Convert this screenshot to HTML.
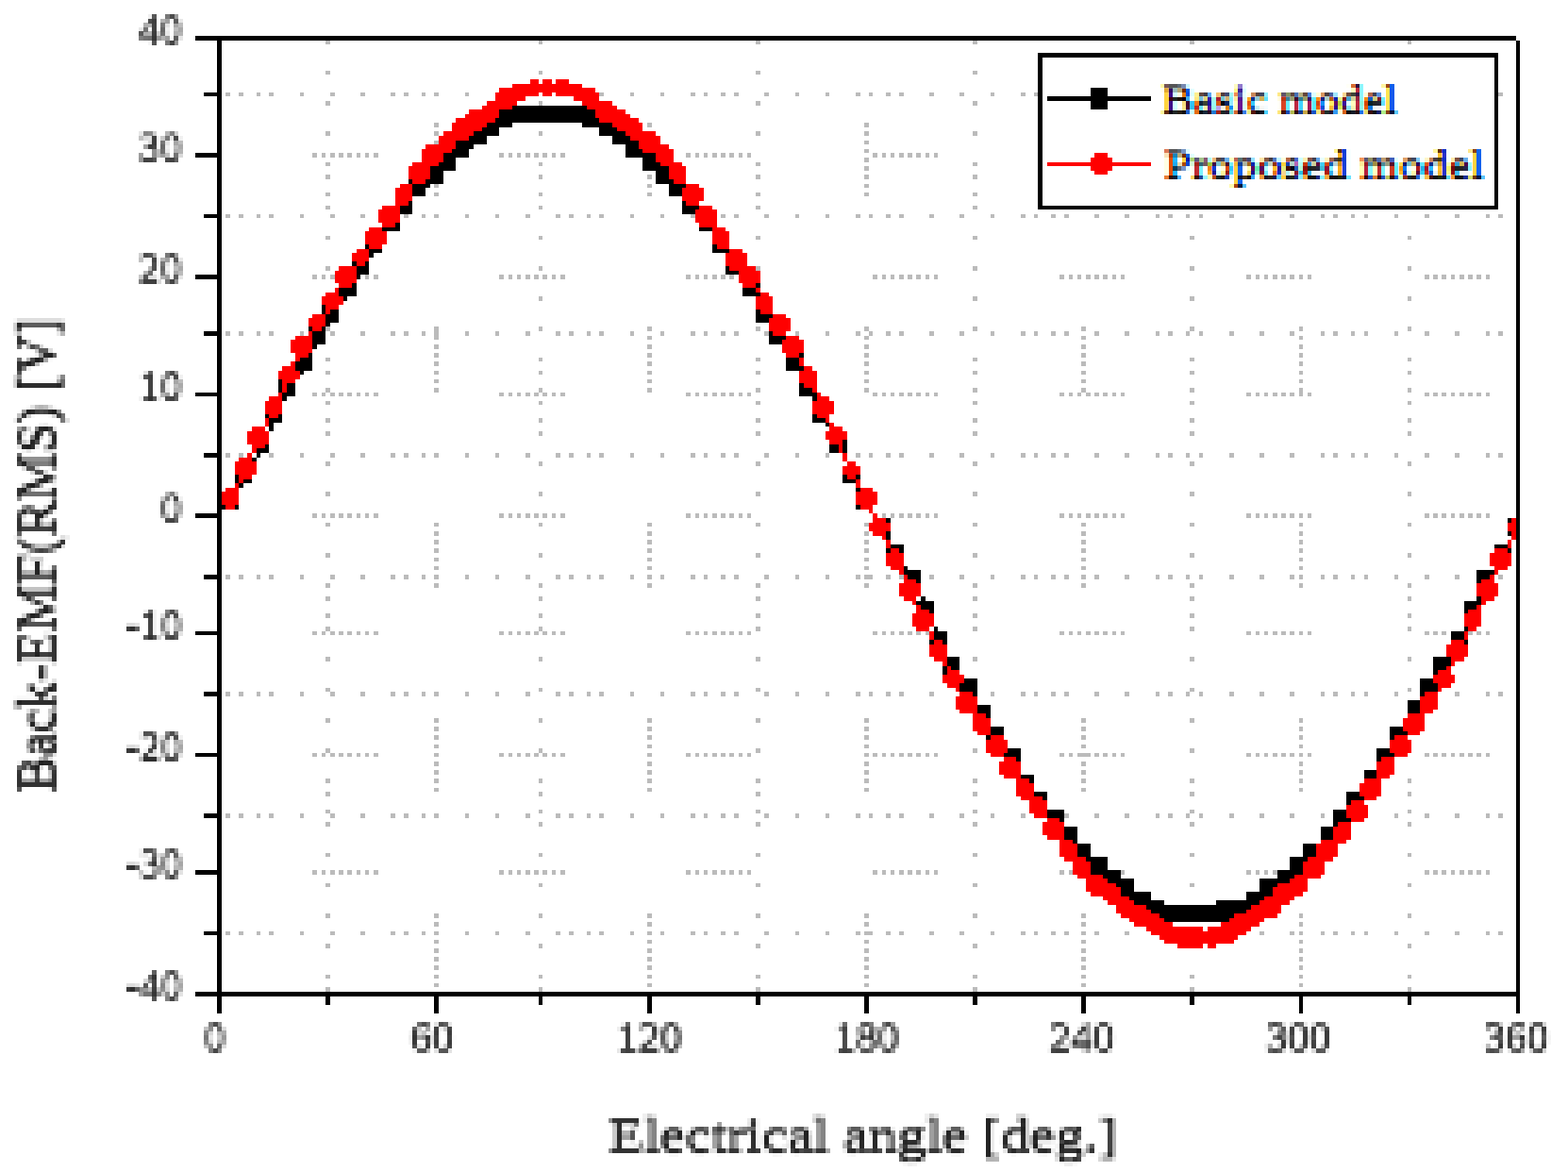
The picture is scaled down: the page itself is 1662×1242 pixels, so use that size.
<!DOCTYPE html>
<html lang="en">
<head>
<meta charset="utf-8">
<title>Back-EMF (RMS) versus electrical angle</title>
<style>
html,body{margin:0;padding:0;background:#fff}
body{width:1662px;height:1242px;overflow:hidden}
svg{display:block}
text{font-family:"Liberation Serif",serif;white-space:pre}
.tk{fill:#000;fill-opacity:0.82}
.ti{fill:#000;fill-opacity:0.88}
.lg{fill:#000}
</style>
</head>
<body>
<svg width="1662" height="1242" viewBox="0 0 1662 1242" role="img" aria-label="Back-EMF (RMS) versus electrical angle for the basic and proposed models">
<rect width="1662" height="1242" fill="#fff"/>
<g shape-rendering="crispEdges">
<path fill="#bbbbbb" d="M345 43h5v4h-5zM571 43h4v4h-4zM801 43h5v4h-5zM1031 43h5v4h-5zM1261 43h5v4h-5zM1492 43h4v4h-4zM345 75h5v4h-5zM571 75h4v4h-4zM801 75h5v4h-5zM1031 75h5v4h-5zM239 98h5v4h-5zM253 98h5v4h-5zM272 98h4v4h-4zM285 98h5v4h-5zM318 98h4v4h-4zM350 98h5v4h-5zM382 98h5v4h-5zM414 98h5v4h-5zM428 98h5v4h-5zM447 98h4v4h-4zM460 98h5v4h-5zM493 98h4v4h-4zM635 98h5v4h-5zM668 98h4v4h-4zM700 98h4v4h-4zM732 98h5v4h-5zM746 98h4v4h-4zM764 98h5v4h-5zM778 98h5v4h-5zM810 98h5v4h-5zM843 98h4v4h-4zM875 98h4v4h-4zM907 98h5v4h-5zM921 98h4v4h-4zM939 98h5v4h-5zM953 98h5v4h-5zM985 98h5v4h-5zM1017 98h5v4h-5zM1050 98h4v4h-4zM1082 98h5v4h-5zM1096 98h4v4h-4zM1588 98h5v4h-5zM345 107h5v5h-5zM571 107h4v5h-4zM801 107h5v5h-5zM1031 107h5v5h-5zM460 130h5v5h-5zM686 130h5v5h-5zM916 130h5v5h-5zM345 139h5v5h-5zM460 139h5v5h-5zM571 139h4v5h-4zM801 139h5v5h-5zM916 139h5v5h-5zM1031 139h5v5h-5zM460 149h5v4h-5zM916 149h5v4h-5zM916 158h5v4h-5zM331 162h5v5h-5zM341 162h4v5h-4zM350 162h5v5h-5zM359 162h5v5h-5zM368 162h5v5h-5zM378 162h4v5h-4zM387 162h4v5h-4zM396 162h5v5h-5zM529 162h5v5h-5zM539 162h4v5h-4zM548 162h4v5h-4zM557 162h5v5h-5zM566 162h5v5h-5zM575 162h5v5h-5zM585 162h4v5h-4zM594 162h5v5h-5zM727 162h5v5h-5zM737 162h4v5h-4zM746 162h4v5h-4zM755 162h5v5h-5zM764 162h5v5h-5zM773 162h5v5h-5zM783 162h4v5h-4zM792 162h4v5h-4zM925 162h5v5h-5zM935 162h4v5h-4zM944 162h4v5h-4zM953 162h5v5h-5zM962 162h5v5h-5zM971 162h5v5h-5zM981 162h4v5h-4zM990 162h4v5h-4zM916 167h5v5h-5zM345 172h5v4h-5zM571 172h4v4h-4zM801 172h5v4h-5zM1031 172h5v4h-5zM916 176h5v5h-5zM345 185h5v5h-5zM571 185h4v5h-4zM686 185h5v5h-5zM801 185h5v5h-5zM916 185h5v5h-5zM1031 185h5v5h-5zM460 195h5v4h-5zM686 195h5v4h-5zM916 195h5v4h-5zM345 204h5v4h-5zM460 204h5v4h-5zM571 204h4v4h-4zM686 204h5v4h-5zM801 204h5v4h-5zM916 204h5v4h-5zM1031 204h5v4h-5zM345 218h5v4h-5zM571 218h4v4h-4zM801 218h5v4h-5zM1031 218h5v4h-5zM239 227h5v4h-5zM253 227h5v4h-5zM272 227h4v4h-4zM285 227h5v4h-5zM318 227h4v4h-4zM350 227h5v4h-5zM382 227h5v4h-5zM428 227h5v4h-5zM447 227h4v4h-4zM460 227h5v4h-5zM493 227h4v4h-4zM525 227h4v4h-4zM557 227h5v4h-5zM589 227h5v4h-5zM603 227h5v4h-5zM622 227h4v4h-4zM635 227h5v4h-5zM668 227h4v4h-4zM700 227h4v4h-4zM732 227h5v4h-5zM764 227h5v4h-5zM778 227h5v4h-5zM810 227h5v4h-5zM843 227h4v4h-4zM875 227h4v4h-4zM907 227h5v4h-5zM921 227h4v4h-4zM939 227h5v4h-5zM953 227h5v4h-5zM985 227h5v4h-5zM1017 227h5v4h-5zM1050 227h4v4h-4zM1082 227h5v4h-5zM1096 227h4v4h-4zM1114 227h5v4h-5zM1128 227h5v4h-5zM1160 227h5v4h-5zM1192 227h5v4h-5zM1225 227h4v4h-4zM1238 227h5v4h-5zM1257 227h4v4h-4zM1271 227h4v4h-4zM1303 227h5v4h-5zM1335 227h5v4h-5zM1367 227h5v4h-5zM1400 227h4v4h-4zM1413 227h5v4h-5zM1432 227h4v4h-4zM1446 227h4v4h-4zM1478 227h4v4h-4zM1510 227h5v4h-5zM1542 227h5v4h-5zM1575 227h4v4h-4zM1588 227h5v4h-5zM345 250h5v4h-5zM571 250h4v4h-4zM801 250h5v4h-5zM1031 250h5v4h-5zM1261 250h5v4h-5zM1492 250h4v4h-4zM345 282h5v5h-5zM571 282h4v5h-4zM801 282h5v5h-5zM1031 282h5v5h-5zM1261 282h5v5h-5zM1492 282h4v5h-4zM331 291h5v5h-5zM341 291h4v5h-4zM350 291h5v5h-5zM387 291h4v5h-4zM396 291h5v5h-5zM529 291h5v5h-5zM539 291h4v5h-4zM548 291h4v5h-4zM557 291h5v5h-5zM566 291h5v5h-5zM575 291h5v5h-5zM585 291h4v5h-4zM594 291h5v5h-5zM727 291h5v5h-5zM737 291h4v5h-4zM746 291h4v5h-4zM755 291h5v5h-5zM764 291h5v5h-5zM773 291h5v5h-5zM925 291h5v5h-5zM935 291h4v5h-4zM944 291h4v5h-4zM953 291h5v5h-5zM962 291h5v5h-5zM971 291h5v5h-5zM981 291h4v5h-4zM990 291h4v5h-4zM1123 291h5v5h-5zM1133 291h4v5h-4zM1142 291h4v5h-4zM1151 291h5v5h-5zM1160 291h5v5h-5zM1169 291h5v5h-5zM1179 291h4v5h-4zM1188 291h4v5h-4zM1321 291h5v5h-5zM1331 291h4v5h-4zM1340 291h4v5h-4zM1349 291h5v5h-5zM1358 291h5v5h-5zM1367 291h5v5h-5zM1377 291h4v5h-4zM1386 291h4v5h-4zM1510 291h5v5h-5zM1519 291h5v5h-5zM1528 291h5v5h-5zM1538 291h4v5h-4zM1547 291h5v5h-5zM1556 291h5v5h-5zM1565 291h5v5h-5zM1575 291h4v5h-4zM571 314h4v5h-4zM1031 314h5v5h-5zM1261 314h5v5h-5zM1492 314h4v5h-4zM345 346h5v5h-5zM460 346h5v14h-5zM571 346h4v5h-4zM686 346h5v5h-5zM801 346h5v5h-5zM916 346h5v5h-5zM1031 346h5v5h-5zM1146 346h5v5h-5zM1261 346h5v5h-5zM1377 346h4v5h-4zM1492 346h4v5h-4zM239 351h5v5h-5zM253 351h5v5h-5zM272 351h4v5h-4zM285 351h5v5h-5zM318 351h4v5h-4zM350 351h5v5h-5zM382 351h5v5h-5zM414 351h5v5h-5zM428 351h5v5h-5zM447 351h4v5h-4zM493 351h4v5h-4zM525 351h4v5h-4zM557 351h5v5h-5zM589 351h5v5h-5zM603 351h5v5h-5zM622 351h4v5h-4zM635 351h5v5h-5zM668 351h4v5h-4zM700 351h4v5h-4zM732 351h5v5h-5zM746 351h4v5h-4zM764 351h5v5h-5zM778 351h5v5h-5zM810 351h5v5h-5zM843 351h4v5h-4zM875 351h4v5h-4zM907 351h5v5h-5zM921 351h4v5h-4zM939 351h5v5h-5zM953 351h5v5h-5zM985 351h5v5h-5zM1017 351h5v5h-5zM1050 351h4v5h-4zM1082 351h5v5h-5zM1096 351h4v5h-4zM1114 351h5v5h-5zM1128 351h5v5h-5zM1160 351h5v5h-5zM1192 351h5v5h-5zM1225 351h4v5h-4zM1238 351h5v5h-5zM1257 351h4v5h-4zM1271 351h4v5h-4zM1303 351h5v5h-5zM1335 351h5v5h-5zM1367 351h5v5h-5zM1400 351h4v5h-4zM1413 351h5v5h-5zM1432 351h4v5h-4zM1446 351h4v5h-4zM1478 351h4v5h-4zM1510 351h5v5h-5zM1542 351h5v5h-5zM1575 351h4v5h-4zM1588 351h5v5h-5zM686 356h5v4h-5zM916 356h5v4h-5zM1146 356h5v4h-5zM1377 356h4v4h-4zM460 365h5v5h-5zM686 365h5v5h-5zM916 365h5v5h-5zM1146 365h5v5h-5zM1377 365h4v5h-4zM460 374h5v5h-5zM686 374h5v5h-5zM916 374h5v5h-5zM1146 374h5v5h-5zM1377 374h4v5h-4zM345 379h5v4h-5zM571 379h4v4h-4zM801 379h5v4h-5zM1031 379h5v4h-5zM1261 379h5v4h-5zM1492 379h4v4h-4zM460 383h5v5h-5zM686 383h5v5h-5zM916 383h5v5h-5zM1146 383h5v5h-5zM1377 383h4v5h-4zM345 393h5v4h-5zM460 393h5v4h-5zM571 393h4v4h-4zM686 393h5v4h-5zM801 393h5v4h-5zM916 393h5v4h-5zM1031 393h5v4h-5zM1146 393h5v4h-5zM1261 393h5v4h-5zM1377 393h4v4h-4zM1492 393h4v4h-4zM460 402h5v4h-5zM686 402h5v4h-5zM916 402h5v4h-5zM1146 402h5v4h-5zM1377 402h4v4h-4zM345 411h5v5h-5zM460 411h5v5h-5zM571 411h4v5h-4zM686 411h5v5h-5zM801 411h5v5h-5zM916 411h5v5h-5zM1031 411h5v5h-5zM1146 411h5v5h-5zM1261 411h5v5h-5zM1377 411h4v9h-4zM1492 411h4v5h-4zM331 416h5v4h-5zM341 416h4v4h-4zM350 416h5v4h-5zM359 416h5v4h-5zM368 416h5v4h-5zM378 416h4v4h-4zM387 416h4v4h-4zM396 416h5v4h-5zM529 416h5v4h-5zM539 416h4v4h-4zM548 416h4v4h-4zM557 416h5v4h-5zM566 416h5v4h-5zM575 416h5v4h-5zM585 416h4v4h-4zM594 416h5v4h-5zM727 416h5v4h-5zM737 416h4v4h-4zM746 416h4v4h-4zM755 416h5v4h-5zM764 416h5v4h-5zM773 416h5v4h-5zM783 416h4v4h-4zM792 416h4v4h-4zM925 416h5v4h-5zM935 416h4v4h-4zM944 416h4v4h-4zM953 416h5v4h-5zM962 416h5v4h-5zM971 416h5v4h-5zM981 416h4v4h-4zM990 416h4v4h-4zM1123 416h5v4h-5zM1133 416h4v4h-4zM1142 416h4v4h-4zM1151 416h5v4h-5zM1160 416h5v4h-5zM1169 416h5v4h-5zM1179 416h4v4h-4zM1188 416h4v4h-4zM1321 416h5v4h-5zM1331 416h4v4h-4zM1340 416h4v4h-4zM1349 416h5v4h-5zM1358 416h5v4h-5zM1367 416h5v4h-5zM1386 416h4v4h-4zM1510 416h5v4h-5zM1519 416h5v4h-5zM1528 416h5v4h-5zM1538 416h4v4h-4zM1547 416h5v4h-5zM1556 416h5v4h-5zM1565 416h5v4h-5zM1575 416h4v4h-4zM345 425h5v4h-5zM571 425h4v4h-4zM801 425h5v4h-5zM1031 425h5v4h-5zM1261 425h5v4h-5zM1492 425h4v4h-4zM345 443h5v5h-5zM571 443h4v5h-4zM801 443h5v5h-5zM1031 443h5v5h-5zM1261 443h5v5h-5zM1492 443h4v5h-4zM345 457h5v5h-5zM571 457h4v5h-4zM801 457h5v5h-5zM1031 457h5v5h-5zM1261 457h5v5h-5zM1492 457h4v5h-4zM239 480h5v5h-5zM253 480h5v5h-5zM285 480h5v5h-5zM318 480h4v5h-4zM350 480h5v5h-5zM382 480h5v5h-5zM414 480h5v5h-5zM428 480h5v5h-5zM447 480h4v5h-4zM460 480h5v5h-5zM493 480h4v5h-4zM525 480h4v5h-4zM557 480h5v5h-5zM589 480h5v5h-5zM603 480h5v5h-5zM622 480h4v5h-4zM635 480h5v5h-5zM668 480h4v5h-4zM700 480h4v5h-4zM732 480h5v5h-5zM746 480h4v5h-4zM764 480h5v5h-5zM778 480h5v5h-5zM810 480h5v5h-5zM843 480h4v5h-4zM875 480h4v5h-4zM907 480h5v5h-5zM921 480h4v5h-4zM939 480h5v5h-5zM953 480h5v5h-5zM985 480h5v5h-5zM1017 480h5v5h-5zM1050 480h4v5h-4zM1082 480h5v5h-5zM1096 480h4v5h-4zM1114 480h5v5h-5zM1128 480h5v5h-5zM1160 480h5v5h-5zM1192 480h5v5h-5zM1225 480h4v5h-4zM1238 480h5v5h-5zM1257 480h4v5h-4zM1271 480h4v5h-4zM1303 480h5v5h-5zM1335 480h5v5h-5zM1367 480h5v5h-5zM1400 480h4v5h-4zM1413 480h5v5h-5zM1432 480h4v5h-4zM1446 480h4v5h-4zM1478 480h4v5h-4zM1510 480h5v5h-5zM1542 480h5v5h-5zM1575 480h4v5h-4zM1588 480h5v5h-5zM345 489h5v5h-5zM571 489h4v5h-4zM801 489h5v5h-5zM1031 489h5v5h-5zM1261 489h5v5h-5zM1492 489h4v5h-4zM345 521h5v5h-5zM571 521h4v5h-4zM801 521h5v5h-5zM1031 521h5v5h-5zM1261 521h5v5h-5zM1492 521h4v5h-4zM331 544h5v5h-5zM341 544h4v5h-4zM350 544h5v5h-5zM359 544h5v5h-5zM368 544h5v5h-5zM378 544h4v5h-4zM387 544h4v5h-4zM396 544h5v5h-5zM529 544h5v5h-5zM539 544h4v5h-4zM548 544h4v5h-4zM557 544h5v5h-5zM566 544h5v5h-5zM575 544h5v5h-5zM585 544h4v5h-4zM594 544h5v5h-5zM727 544h5v5h-5zM737 544h4v5h-4zM746 544h4v5h-4zM755 544h5v5h-5zM764 544h5v5h-5zM773 544h5v5h-5zM783 544h4v5h-4zM792 544h4v5h-4zM935 544h4v5h-4zM944 544h4v5h-4zM953 544h5v5h-5zM962 544h5v5h-5zM971 544h5v5h-5zM981 544h4v5h-4zM990 544h4v5h-4zM1123 544h5v5h-5zM1133 544h4v5h-4zM1142 544h4v5h-4zM1151 544h5v5h-5zM1160 544h5v5h-5zM1169 544h5v5h-5zM1179 544h4v5h-4zM1188 544h4v5h-4zM1321 544h5v5h-5zM1331 544h4v5h-4zM1340 544h4v5h-4zM1349 544h5v5h-5zM1358 544h5v5h-5zM1367 544h5v5h-5zM1377 544h4v5h-4zM1386 544h4v5h-4zM1510 544h5v5h-5zM1519 544h5v5h-5zM1528 544h5v5h-5zM1538 544h4v5h-4zM1547 544h5v5h-5zM1556 544h5v5h-5zM1565 544h5v5h-5zM1575 544h4v5h-4zM345 554h5v4h-5zM460 554h5v4h-5zM571 554h4v4h-4zM686 554h5v4h-5zM801 554h5v4h-5zM916 554h5v4h-5zM1031 554h5v4h-5zM1146 554h5v4h-5zM1261 554h5v4h-5zM1377 554h4v4h-4zM1492 554h4v4h-4zM460 563h5v5h-5zM686 563h5v5h-5zM916 563h5v5h-5zM1146 563h5v5h-5zM1377 563h4v5h-4zM460 572h5v5h-5zM686 572h5v5h-5zM916 572h5v5h-5zM1146 572h5v5h-5zM1377 572h4v5h-4zM460 581h5v5h-5zM686 581h5v5h-5zM916 581h5v5h-5zM1146 581h5v5h-5zM1377 581h4v5h-4zM345 586h5v5h-5zM571 586h4v5h-4zM801 586h5v5h-5zM1031 586h5v5h-5zM1261 586h5v5h-5zM1492 586h4v5h-4zM460 591h5v4h-5zM686 591h5v4h-5zM916 591h5v4h-5zM1146 591h5v4h-5zM1377 591h4v4h-4zM460 600h5v4h-5zM686 600h5v4h-5zM916 600h5v4h-5zM1146 600h5v4h-5zM1377 600h4v4h-4zM239 609h5v5h-5zM253 609h5v5h-5zM272 609h4v5h-4zM285 609h5v5h-5zM318 609h4v5h-4zM350 609h5v5h-5zM382 609h5v5h-5zM414 609h5v5h-5zM428 609h5v5h-5zM447 609h4v5h-4zM460 609h5v5h-5zM493 609h4v5h-4zM525 609h4v5h-4zM557 609h5v5h-5zM589 609h5v5h-5zM603 609h5v5h-5zM622 609h4v5h-4zM635 609h5v5h-5zM668 609h4v5h-4zM686 609h5v5h-5zM700 609h4v5h-4zM732 609h5v5h-5zM746 609h4v5h-4zM764 609h5v5h-5zM778 609h5v5h-5zM810 609h5v5h-5zM843 609h4v5h-4zM875 609h4v5h-4zM907 609h5v5h-5zM916 609h9v5h-9zM939 609h5v5h-5zM953 609h5v5h-5zM985 609h5v5h-5zM1017 609h5v5h-5zM1050 609h4v5h-4zM1082 609h5v5h-5zM1096 609h4v5h-4zM1114 609h5v5h-5zM1128 609h5v5h-5zM1146 609h5v5h-5zM1160 609h5v5h-5zM1192 609h5v5h-5zM1225 609h4v5h-4zM1238 609h5v5h-5zM1257 609h4v5h-4zM1271 609h4v5h-4zM1303 609h5v5h-5zM1335 609h5v5h-5zM1367 609h5v5h-5zM1377 609h4v5h-4zM1400 609h4v5h-4zM1413 609h5v5h-5zM1432 609h4v5h-4zM1446 609h4v5h-4zM1478 609h4v5h-4zM1510 609h5v5h-5zM1542 609h5v5h-5zM1588 609h5v5h-5zM345 618h5v5h-5zM460 618h5v5h-5zM571 618h4v5h-4zM686 618h5v5h-5zM801 618h5v5h-5zM916 618h5v5h-5zM1031 618h5v5h-5zM1146 618h5v5h-5zM1261 618h5v5h-5zM1377 618h4v5h-4zM1492 618h4v5h-4zM345 632h5v5h-5zM571 632h4v5h-4zM801 632h5v5h-5zM1031 632h5v5h-5zM1261 632h5v5h-5zM1492 632h4v5h-4zM345 650h5v5h-5zM571 650h4v5h-4zM801 650h5v5h-5zM1031 650h5v5h-5zM1261 650h5v5h-5zM1492 650h4v5h-4zM345 664h5v5h-5zM571 664h4v5h-4zM801 664h5v5h-5zM1031 664h5v5h-5zM1261 664h5v5h-5zM1492 664h4v5h-4zM331 669h5v4h-5zM341 669h4v4h-4zM350 669h5v4h-5zM359 669h5v4h-5zM368 669h5v4h-5zM378 669h4v4h-4zM387 669h4v4h-4zM396 669h5v4h-5zM529 669h5v4h-5zM539 669h4v4h-4zM548 669h4v4h-4zM557 669h5v4h-5zM566 669h5v4h-5zM575 669h5v4h-5zM585 669h4v4h-4zM594 669h5v4h-5zM727 669h5v4h-5zM737 669h4v4h-4zM746 669h4v4h-4zM755 669h5v4h-5zM764 669h5v4h-5zM773 669h5v4h-5zM783 669h4v4h-4zM792 669h4v4h-4zM925 669h5v4h-5zM935 669h4v4h-4zM944 669h4v4h-4zM953 669h5v4h-5zM962 669h5v4h-5zM971 669h5v4h-5zM981 669h4v4h-4zM1123 669h5v4h-5zM1133 669h4v4h-4zM1142 669h4v4h-4zM1151 669h5v4h-5zM1160 669h5v4h-5zM1169 669h5v4h-5zM1179 669h4v4h-4zM1188 669h4v4h-4zM1321 669h5v4h-5zM1331 669h4v4h-4zM1340 669h4v4h-4zM1349 669h5v4h-5zM1358 669h5v4h-5zM1367 669h5v4h-5zM1377 669h4v4h-4zM1386 669h4v4h-4zM1510 669h5v4h-5zM1519 669h5v4h-5zM1528 669h5v4h-5zM1556 669h5v4h-5zM1565 669h5v4h-5zM1575 669h4v4h-4zM345 696h5v5h-5zM571 696h4v5h-4zM801 696h5v5h-5zM1031 696h5v5h-5zM1261 696h5v5h-5zM1492 696h4v5h-4zM345 729h5v4h-5zM571 729h4v4h-4zM801 729h5v4h-5zM1261 729h5v4h-5zM1492 729h4v4h-4zM239 733h5v5h-5zM253 733h5v5h-5zM272 733h4v5h-4zM285 733h5v5h-5zM318 733h4v5h-4zM350 733h5v5h-5zM382 733h5v5h-5zM414 733h5v5h-5zM428 733h5v5h-5zM447 733h4v5h-4zM460 733h5v5h-5zM493 733h4v5h-4zM525 733h4v5h-4zM557 733h5v5h-5zM589 733h5v5h-5zM603 733h5v5h-5zM622 733h4v5h-4zM635 733h5v5h-5zM668 733h4v5h-4zM700 733h4v5h-4zM732 733h5v5h-5zM746 733h4v5h-4zM764 733h5v5h-5zM778 733h5v5h-5zM810 733h5v5h-5zM843 733h4v5h-4zM875 733h4v5h-4zM907 733h5v5h-5zM921 733h4v5h-4zM939 733h5v5h-5zM953 733h5v5h-5zM985 733h5v5h-5zM1050 733h4v5h-4zM1082 733h5v5h-5zM1096 733h4v5h-4zM1114 733h5v5h-5zM1128 733h5v5h-5zM1160 733h5v5h-5zM1192 733h5v5h-5zM1225 733h4v5h-4zM1238 733h5v5h-5zM1257 733h4v5h-4zM1271 733h4v5h-4zM1303 733h5v5h-5zM1335 733h5v5h-5zM1367 733h5v5h-5zM1400 733h4v5h-4zM1413 733h5v5h-5zM1432 733h4v5h-4zM1446 733h4v5h-4zM1478 733h4v5h-4zM1542 733h5v5h-5zM1575 733h4v5h-4zM1588 733h5v5h-5zM345 761h5v5h-5zM460 761h5v5h-5zM571 761h4v5h-4zM686 761h5v5h-5zM801 761h5v5h-5zM916 761h5v5h-5zM1146 761h5v5h-5zM1261 761h5v5h-5zM1377 761h4v5h-4zM460 770h5v5h-5zM686 770h5v5h-5zM916 770h5v5h-5zM1146 770h5v5h-5zM1377 770h4v5h-4zM460 779h5v5h-5zM686 779h5v5h-5zM916 779h5v5h-5zM1146 779h5v5h-5zM1377 779h4v5h-4zM460 789h5v4h-5zM686 789h5v4h-5zM916 789h5v4h-5zM1146 789h5v4h-5zM1377 789h4v4h-4zM345 793h5v5h-5zM571 793h4v5h-4zM801 793h5v5h-5zM1031 793h5v5h-5zM1261 793h5v5h-5zM331 798h5v4h-5zM341 798h4v4h-4zM350 798h5v4h-5zM359 798h5v4h-5zM368 798h5v4h-5zM378 798h4v4h-4zM387 798h4v4h-4zM396 798h5v4h-5zM460 798h5v4h-5zM529 798h5v4h-5zM539 798h4v4h-4zM548 798h4v4h-4zM557 798h5v4h-5zM566 798h5v4h-5zM575 798h5v4h-5zM585 798h4v4h-4zM594 798h5v4h-5zM686 798h5v4h-5zM727 798h5v4h-5zM737 798h4v4h-4zM746 798h4v4h-4zM755 798h5v4h-5zM764 798h5v4h-5zM773 798h5v4h-5zM783 798h4v4h-4zM792 798h4v4h-4zM916 798h5v4h-5zM925 798h5v4h-5zM935 798h4v4h-4zM944 798h4v4h-4zM953 798h5v4h-5zM962 798h5v4h-5zM971 798h5v4h-5zM981 798h4v4h-4zM990 798h4v4h-4zM1123 798h5v4h-5zM1133 798h4v4h-4zM1142 798h14v4h-14zM1160 798h5v4h-5zM1169 798h5v4h-5zM1179 798h4v4h-4zM1188 798h4v4h-4zM1321 798h5v4h-5zM1331 798h4v4h-4zM1340 798h4v4h-4zM1349 798h5v4h-5zM1358 798h5v4h-5zM1367 798h5v4h-5zM1377 798h4v4h-4zM1386 798h4v4h-4zM1510 798h5v4h-5zM1519 798h5v4h-5zM1528 798h5v4h-5zM1538 798h4v4h-4zM1547 798h5v4h-5zM1556 798h5v4h-5zM1565 798h5v4h-5zM1575 798h4v4h-4zM460 807h5v5h-5zM686 807h5v5h-5zM916 807h5v5h-5zM1146 807h5v5h-5zM1377 807h4v5h-4zM460 816h5v5h-5zM686 816h5v5h-5zM916 816h5v5h-5zM1146 816h5v5h-5zM1377 816h4v5h-4zM345 825h5v5h-5zM460 825h5v5h-5zM571 825h4v5h-4zM686 825h5v5h-5zM801 825h5v5h-5zM916 825h5v5h-5zM1031 825h5v5h-5zM1146 825h5v5h-5zM1261 825h5v5h-5zM1377 825h4v5h-4zM1492 825h4v5h-4zM460 835h5v4h-5zM686 835h5v4h-5zM916 835h5v4h-5zM1146 835h5v4h-5zM1377 835h4v4h-4zM345 839h5v5h-5zM571 839h4v5h-4zM801 839h5v5h-5zM1031 839h5v5h-5zM1261 839h5v5h-5zM1492 839h4v5h-4zM345 858h5v4h-5zM571 858h4v4h-4zM801 858h5v4h-5zM1031 858h5v4h-5zM1261 858h5v4h-5zM1492 858h4v4h-4zM239 862h5v5h-5zM253 862h5v5h-5zM272 862h4v5h-4zM285 862h5v5h-5zM318 862h4v5h-4zM350 862h5v5h-5zM382 862h5v5h-5zM414 862h5v5h-5zM428 862h5v5h-5zM447 862h4v5h-4zM460 862h5v5h-5zM493 862h4v5h-4zM525 862h4v5h-4zM557 862h5v5h-5zM589 862h5v5h-5zM603 862h5v5h-5zM622 862h4v5h-4zM635 862h5v5h-5zM668 862h4v5h-4zM700 862h4v5h-4zM732 862h5v5h-5zM746 862h4v5h-4zM764 862h5v5h-5zM778 862h5v5h-5zM810 862h5v5h-5zM843 862h4v5h-4zM875 862h4v5h-4zM907 862h5v5h-5zM921 862h4v5h-4zM939 862h5v5h-5zM953 862h5v5h-5zM985 862h5v5h-5zM1017 862h5v5h-5zM1050 862h4v5h-4zM1082 862h5v5h-5zM1128 862h5v5h-5zM1160 862h5v5h-5zM1192 862h5v5h-5zM1225 862h4v5h-4zM1238 862h5v5h-5zM1257 862h4v5h-4zM1271 862h4v5h-4zM1303 862h5v5h-5zM1335 862h5v5h-5zM1367 862h5v5h-5zM1400 862h4v5h-4zM1478 862h4v5h-4zM1510 862h5v5h-5zM1542 862h5v5h-5zM1575 862h4v5h-4zM1588 862h5v5h-5zM345 871h5v5h-5zM571 871h4v5h-4zM801 871h5v5h-5zM1031 871h5v5h-5zM1261 871h5v5h-5zM1492 871h4v5h-4zM345 904h5v4h-5zM571 904h4v4h-4zM801 904h5v4h-5zM1031 904h5v4h-5zM1261 904h5v4h-5zM1492 904h4v4h-4zM331 922h5v5h-5zM341 922h4v5h-4zM350 922h5v5h-5zM359 922h5v5h-5zM368 922h5v5h-5zM378 922h4v5h-4zM387 922h4v5h-4zM396 922h5v5h-5zM529 922h5v5h-5zM539 922h4v5h-4zM548 922h4v5h-4zM557 922h5v5h-5zM566 922h5v5h-5zM575 922h5v5h-5zM585 922h4v5h-4zM594 922h5v5h-5zM727 922h5v5h-5zM737 922h4v5h-4zM746 922h4v5h-4zM755 922h5v5h-5zM764 922h5v5h-5zM773 922h5v5h-5zM783 922h4v5h-4zM792 922h4v5h-4zM925 922h5v5h-5zM935 922h4v5h-4zM944 922h4v5h-4zM953 922h5v5h-5zM962 922h5v5h-5zM971 922h5v5h-5zM981 922h4v5h-4zM990 922h4v5h-4zM1123 922h5v5h-5zM1133 922h4v5h-4zM1188 922h4v5h-4zM1321 922h5v5h-5zM1331 922h4v5h-4zM1340 922h4v5h-4zM1349 922h5v5h-5zM1510 922h5v5h-5zM1519 922h5v5h-5zM1528 922h5v5h-5zM1538 922h4v5h-4zM1547 922h5v5h-5zM1556 922h5v5h-5zM1565 922h5v5h-5zM1575 922h4v5h-4zM345 936h5v4h-5zM571 936h4v4h-4zM801 936h5v4h-5zM1031 936h5v4h-5zM1261 936h5v4h-5zM1492 936h4v4h-4zM345 968h5v5h-5zM460 968h5v5h-5zM571 968h4v5h-4zM686 968h5v5h-5zM801 968h5v5h-5zM916 968h5v5h-5zM1031 968h5v5h-5zM1146 968h5v5h-5zM1377 968h4v5h-4zM1492 968h4v5h-4zM460 977h5v5h-5zM686 977h5v5h-5zM916 977h5v5h-5zM1146 977h5v5h-5zM1377 977h4v5h-4zM239 987h5v4h-5zM253 987h5v4h-5zM272 987h4v4h-4zM285 987h5v4h-5zM318 987h4v4h-4zM350 987h5v4h-5zM382 987h5v4h-5zM414 987h5v4h-5zM428 987h5v4h-5zM447 987h4v4h-4zM460 987h5v4h-5zM493 987h4v4h-4zM525 987h4v4h-4zM557 987h5v4h-5zM589 987h5v4h-5zM603 987h5v4h-5zM622 987h4v4h-4zM635 987h5v4h-5zM668 987h4v4h-4zM686 987h5v4h-5zM700 987h4v4h-4zM732 987h5v4h-5zM746 987h4v4h-4zM764 987h5v4h-5zM778 987h5v4h-5zM810 987h5v4h-5zM843 987h4v4h-4zM875 987h4v4h-4zM907 987h5v4h-5zM916 987h9v4h-9zM939 987h5v4h-5zM953 987h5v4h-5zM985 987h5v4h-5zM1017 987h5v4h-5zM1050 987h4v4h-4zM1082 987h5v4h-5zM1096 987h4v4h-4zM1114 987h5v4h-5zM1128 987h5v4h-5zM1146 987h5v4h-5zM1160 987h5v4h-5zM1192 987h5v4h-5zM1335 987h5v4h-5zM1367 987h5v4h-5zM1377 987h4v4h-4zM1400 987h4v4h-4zM1413 987h5v4h-5zM1432 987h4v4h-4zM1446 987h4v4h-4zM1478 987h4v4h-4zM1510 987h5v4h-5zM1542 987h5v4h-5zM1575 987h4v4h-4zM1588 987h5v4h-5zM460 996h5v4h-5zM686 996h5v4h-5zM916 996h5v4h-5zM1146 996h5v4h-5zM1377 996h4v4h-4zM345 1000h5v5h-5zM571 1000h4v5h-4zM801 1000h5v5h-5zM1031 1000h5v5h-5zM1492 1000h4v5h-4zM460 1005h5v5h-5zM686 1005h5v5h-5zM916 1005h5v5h-5zM1146 1005h5v5h-5zM1377 1005h4v5h-4zM460 1014h5v5h-5zM686 1014h5v5h-5zM916 1014h5v5h-5zM1146 1014h5v5h-5zM1377 1014h4v5h-4zM460 1023h5v5h-5zM686 1023h5v5h-5zM916 1023h5v5h-5zM1146 1023h5v5h-5zM1377 1023h4v5h-4zM345 1033h5v4h-5zM460 1033h5v4h-5zM571 1033h4v4h-4zM686 1033h5v4h-5zM801 1033h5v4h-5zM916 1033h5v4h-5zM1031 1033h5v4h-5zM1146 1033h5v4h-5zM1261 1033h5v4h-5zM1377 1033h4v4h-4zM1492 1033h4v4h-4zM460 1042h5v4h-5zM686 1042h5v4h-5zM916 1042h5v4h-5zM1146 1042h5v4h-5zM1377 1042h4v4h-4zM345 1046h5v5h-5zM571 1046h4v5h-4zM801 1046h5v5h-5zM1031 1046h5v5h-5zM1261 1046h5v5h-5zM1492 1046h4v5h-4z"/>
<path fill="#000000" d="M207 38h1400v5h-1400zM230 43h5v55h-5zM1607 43h4v1008h-4zM1100 56h488v5h-488zM1100 61h5v157h-5zM1584 61h4v157h-4zM1156 93h18v9h-18zM216 98h19v4h-19zM230 102h5v60h-5zM1110 102h110v5h-110zM1156 107h18v9h-18zM543 112h79v4h-79zM529 116h102v9h-102zM525 125h110v5h-110zM516 130h27v5h-27zM617 130h32v5h-32zM511 135h18v4h-18zM635 135h19v4h-19zM502 139h27v5h-27zM635 139h28v5h-28zM497 144h19v5h-19zM649 144h19v5h-19zM483 149h33v4h-33zM649 149h28v4h-28zM483 153h19v5h-19zM663 153h14v5h-14zM479 158h18v4h-18zM663 158h18v4h-18zM207 162h28v5h-28zM470 162h27v5h-27zM663 162h32v5h-32zM230 167h5v60h-5zM470 167h13v5h-13zM681 167h14v5h-14zM465 172h18v4h-18zM681 172h19v4h-19zM456 176h27v5h-27zM681 176h28v5h-28zM456 181h14v9h-14zM695 181h14v9h-14zM433 190h4v5h-4zM451 190h19v5h-19zM695 190h19v5h-19zM437 195h19v4h-19zM709 195h18v4h-18zM437 199h14v9h-14zM709 199h14v9h-14zM433 213h4v5h-4zM723 213h4v5h-4zM424 218h13v9h-13zM723 218h18v4h-18zM1100 218h488v4h-488zM723 222h14v5h-14zM216 227h19v4h-19zM230 231h5v60h-5zM419 236h5v5h-5zM405 241h19v4h-19zM741 241h14v4h-14zM387 259h4v5h-4zM755 259h5v5h-5zM391 264h14v4h-14zM755 264h18v4h-18zM391 268h5v5h-5zM373 277h5v5h-5zM387 277h4v5h-4zM378 282h13v9h-13zM769 282h4v5h-4zM769 287h14v4h-14zM207 291h28v5h-28zM378 291h4v5h-4zM230 296h5v55h-5zM373 300h5v5h-5zM801 300h5v5h-5zM359 305h19v9h-19zM787 305h14v5h-14zM787 310h19v4h-19zM364 314h4v5h-4zM341 323h4v10h-4zM350 328h9v5h-9zM801 328h5v5h-5zM345 333h14v9h-14zM801 333h18v4h-18zM801 337h14v5h-14zM345 342h5v4h-5zM327 346h4v5h-4zM341 346h4v5h-4zM216 351h19v5h-19zM331 351h14v14h-14zM815 351h4v5h-4zM230 356h5v60h-5zM815 356h18v4h-18zM815 360h14v5h-14zM331 365h5v5h-5zM327 374h4v5h-4zM847 374h5v5h-5zM318 379h13v4h-13zM833 379h14v9h-14zM313 383h18v10h-18zM833 388h19v5h-19zM318 393h4v4h-4zM295 402h4v14h-4zM304 406h9v10h-9zM847 406h5v5h-5zM847 411h14v5h-14zM207 416h28v4h-28zM299 416h14v4h-14zM847 416h19v4h-19zM230 420h5v60h-5zM299 420h5v5h-5zM861 420h5v5h-5zM281 439h4v4h-4zM295 439h4v4h-4zM861 439h5v4h-5zM285 443h14v5h-14zM861 443h14v5h-14zM285 448h5v9h-5zM875 448h4v4h-4zM893 466h5v14h-5zM281 471h4v4h-4zM879 471h10v9h-10zM272 475h13v5h-13zM216 480h19v5h-19zM272 480h4v5h-4zM230 485h5v50h-5zM267 485h5v4h-5zM249 503h4v9h-4zM893 503h5v5h-5zM907 503h5v5h-5zM258 508h9v4h-9zM893 508h14v4h-14zM253 512h5v5h-5zM907 517h5v4h-5zM230 535h9v5h-9zM249 535h4v5h-4zM907 535h5v5h-5zM230 540h5v4h-5zM207 544h28v5h-28zM230 549h5v60h-5zM939 549h5v5h-5zM1598 549h4v5h-4zM939 563h5v9h-5zM1598 563h4v5h-4zM944 577h14v4h-14zM1584 577h14v4h-14zM939 581h5v5h-5zM953 581h5v5h-5zM1598 581h4v5h-4zM958 600h4v4h-4zM958 604h18v5h-18zM1565 604h19v5h-19zM216 609h19v5h-19zM962 609h14v5h-14zM1565 609h14v5h-14zM230 614h5v55h-5zM971 614h5v4h-5zM1565 614h5v4h-5zM976 632h5v5h-5zM1565 632h5v5h-5zM971 637h19v4h-19zM1552 637h18v4h-18zM976 641h14v5h-14zM1552 641h13v5h-13zM985 646h5v4h-5zM1552 646h4v4h-4zM990 664h4v5h-4zM1552 664h4v5h-4zM207 669h28v4h-28zM990 669h14v9h-14zM1538 669h14v9h-14zM230 673h5v60h-5zM985 678h5v5h-5zM999 678h5v5h-5zM1552 678h4v5h-4zM1004 696h13v10h-13zM1519 696h19v10h-19zM999 706h5v9h-5zM1008 706h9v4h-9zM1519 706h14v4h-14zM1519 710h5v5h-5zM1022 719h14v5h-14zM1505 719h14v5h-14zM1017 724h19v9h-19zM1505 724h19v9h-19zM216 733h19v5h-19zM1031 733h5v5h-5zM1505 733h5v5h-5zM230 738h5v60h-5zM1492 742h13v14h-13zM1036 747h14v9h-14zM1045 756h5v5h-5zM1050 770h14v9h-14zM1473 770h14v5h-14zM1473 775h19v4h-19zM1045 779h5v5h-5zM1473 779h5v5h-5zM1068 793h14v5h-14zM1459 793h14v5h-14zM207 798h28v4h-28zM1064 798h18v4h-18zM1459 798h19v4h-19zM230 802h5v60h-5zM1077 802h5v5h-5zM1459 802h5v5h-5zM1446 816h13v9h-13zM1082 821h14v4h-14zM1091 825h5v5h-5zM1096 839h14v5h-14zM1427 839h14v5h-14zM1105 844h5v4h-5zM1427 844h19v4h-19zM1427 848h5v5h-5zM1110 858h18v9h-18zM1413 858h14v9h-14zM216 862h19v5h-19zM230 867h5v55h-5zM1123 867h5v4h-5zM1413 867h19v4h-19zM1413 871h5v5h-5zM1128 876h14v14h-14zM1400 876h13v14h-13zM1137 890h5v4h-5zM1142 894h14v14h-14zM1381 894h14v14h-14zM1151 908h23v5h-23zM1367 908h19v5h-19zM1156 913h18v9h-18zM1367 913h14v9h-14zM207 922h28v5h-28zM1156 922h32v5h-32zM1354 922h27v5h-27zM230 927h5v60h-5zM1169 927h19v4h-19zM1354 927h18v4h-18zM1174 931h28v5h-28zM1335 931h32v5h-32zM1183 936h19v4h-19zM1335 936h19v4h-19zM1188 940h14v5h-14zM1335 940h14v5h-14zM1188 945h32v5h-32zM1321 945h28v5h-28zM1197 950h23v4h-23zM1321 950h19v4h-19zM1202 954h32v5h-32zM1289 954h46v5h-46zM1215 959h111v5h-111zM1220 964h101v4h-101zM1229 968h79v5h-79zM1234 973h69v4h-69zM216 987h19v4h-19zM230 991h5v60h-5zM207 1051h1404v5h-1404zM230 1056h5v18h-5zM345 1056h5v9h-5zM460 1056h5v18h-5zM571 1056h4v9h-4zM686 1056h5v18h-5zM801 1056h5v9h-5zM916 1056h5v18h-5zM1031 1056h5v9h-5zM1146 1056h5v18h-5zM1261 1056h5v9h-5zM1377 1056h4v18h-4zM1492 1056h4v9h-4zM1607 1056h4v18h-4z"/>
<path fill="#ff0000" d="M562 84h9v5h-9zM575 84h10v5h-10zM589 84h14v5h-14zM543 89h74v4h-74zM529 93h102v5h-102zM525 98h46v4h-46zM575 98h10v4h-10zM589 98h46v4h-46zM525 102h32v5h-32zM608 102h27v5h-27zM516 107h32v5h-32zM617 107h32v5h-32zM511 112h32v4h-32zM622 112h32v4h-32zM497 116h32v5h-32zM631 116h32v5h-32zM493 121h36v4h-36zM631 121h37v4h-37zM483 125h42v5h-42zM635 125h42v5h-42zM479 130h37v5h-37zM649 130h32v5h-32zM479 135h32v4h-32zM654 135h27v4h-27zM470 139h32v5h-32zM663 139h32v5h-32zM465 144h32v5h-32zM668 144h32v5h-32zM465 149h18v4h-18zM677 149h23v4h-23zM451 153h32v5h-32zM677 153h32v5h-32zM447 158h32v4h-32zM681 158h33v4h-33zM447 162h23v10h-23zM695 162h19v10h-19zM1160 162h14v5h-14zM1156 167h23v5h-23zM437 172h28v4h-28zM700 172h23v4h-23zM1110 172h110v4h-110zM433 176h23v14h-23zM709 176h18v14h-18zM1156 176h23v5h-23zM1160 181h14v4h-14zM437 190h14v5h-14zM714 190h13v5h-13zM424 195h13v4h-13zM727 195h14v4h-14zM419 199h18v14h-18zM723 199h23v14h-23zM419 213h14v5h-14zM727 213h14v5h-14zM405 218h19v4h-19zM741 218h14v4h-14zM401 222h23v14h-23zM737 222h23v14h-23zM405 236h14v5h-14zM741 236h19v5h-19zM391 241h14v4h-14zM755 241h14v4h-14zM387 245h23v14h-23zM755 245h18v14h-18zM391 259h14v5h-14zM760 259h13v5h-13zM378 264h13v4h-13zM773 264h14v4h-14zM373 268h18v9h-18zM769 268h23v14h-23zM378 277h9v5h-9zM359 282h19v5h-19zM773 282h28v5h-28zM355 287h23v13h-23zM783 287h23v13h-23zM359 300h14v5h-14zM787 300h14v5h-14zM355 305h4v5h-4zM801 305h5v5h-5zM345 310h14v4h-14zM806 310h9v4h-9zM341 314h23v9h-23zM801 314h18v14h-18zM345 323h14v5h-14zM345 328h5v5h-5zM806 328h13v5h-13zM331 333h14v4h-14zM819 333h14v4h-14zM327 337h18v9h-18zM815 337h23v14h-23zM331 346h10v5h-10zM327 351h4v5h-4zM819 351h14v5h-14zM313 356h18v4h-18zM833 356h14v4h-14zM308 360h23v14h-23zM829 360h23v14h-23zM313 374h14v5h-14zM833 374h14v5h-14zM313 379h5v4h-5zM847 379h5v9h-5zM308 383h5v5h-5zM299 388h14v5h-14zM852 388h9v5h-9zM295 393h23v9h-23zM847 393h19v13h-19zM299 402h14v4h-14zM299 406h5v10h-5zM852 406h14v5h-14zM861 411h5v5h-5zM295 416h4v4h-4zM866 416h4v4h-4zM285 420h14v5h-14zM866 420h13v5h-13zM281 425h18v14h-18zM861 425h23v14h-23zM285 439h10v4h-10zM866 439h13v4h-13zM281 443h4v9h-4zM875 443h4v5h-4zM879 448h5v4h-5zM267 452h14v5h-14zM879 452h14v5h-14zM262 457h23v14h-23zM875 457h23v9h-23zM879 466h14v5h-14zM267 471h14v4h-14zM889 471h4v9h-4zM267 475h5v5h-5zM262 480h5v5h-5zM893 480h5v9h-5zM253 485h14v4h-14zM249 489h23v14h-23zM898 489h9v5h-9zM893 494h19v9h-19zM253 503h14v5h-14zM898 503h9v5h-9zM253 508h5v4h-5zM907 508h5v9h-5zM249 512h4v5h-4zM239 517h14v4h-14zM912 517h13v4h-13zM235 521h18v14h-18zM907 521h23v14h-23zM239 535h10v5h-10zM912 535h13v5h-13zM921 540h4v4h-4zM925 544h5v5h-5zM925 549h14v5h-14zM1602 549h5v5h-5zM921 554h23v9h-23zM1598 554h9v9h-9zM925 563h14v5h-14zM1602 563h5v9h-5zM935 568h4v4h-4zM939 572h5v9h-5zM1598 572h4v9h-4zM944 581h9v5h-9zM1584 581h14v5h-14zM939 586h19v14h-19zM1579 586h23v14h-23zM944 600h14v4h-14zM1584 600h14v4h-14zM953 604h5v5h-5zM1584 604h4v5h-4zM958 609h4v5h-4zM1579 609h5v5h-5zM958 614h13v4h-13zM1570 614h14v4h-14zM953 618h23v14h-23zM1565 618h23v14h-23zM958 632h13v5h-13zM1570 632h14v5h-14zM967 637h4v4h-4zM1570 637h5v4h-5zM971 641h5v5h-5zM1565 641h5v5h-5zM971 646h14v4h-14zM1556 646h14v4h-14zM967 650h23v14h-23zM1552 650h18v14h-18zM971 664h14v5h-14zM1556 664h9v5h-9zM985 669h5v9h-5zM1552 669h4v9h-4zM990 678h9v5h-9zM1538 678h14v5h-14zM985 683h19v13h-19zM1533 683h23v13h-23zM990 696h14v5h-14zM1538 696h14v5h-14zM999 701h5v5h-5zM1538 701h4v5h-4zM1004 706h4v4h-4zM1533 706h5v4h-5zM1004 710h13v5h-13zM1524 710h14v5h-14zM999 715h23v9h-23zM1519 715h23v9h-23zM1004 724h13v5h-13zM1524 724h14v5h-14zM1013 729h4v4h-4zM1524 729h4v4h-4zM1017 733h14v5h-14zM1510 733h14v5h-14zM1013 738h23v14h-23zM1505 738h19v14h-19zM1017 752h19v4h-19zM1505 752h14v4h-14zM1031 756h14v5h-14zM1492 756h18v5h-18zM1031 761h19v14h-19zM1487 761h23v14h-23zM1036 775h14v4h-14zM1492 775h13v4h-13zM1050 779h14v5h-14zM1478 779h14v5h-14zM1045 784h23v14h-23zM1473 784h23v14h-23zM1050 798h14v4h-14zM1478 798h14v4h-14zM1064 802h13v5h-13zM1464 802h14v5h-14zM1059 807h23v14h-23zM1459 807h19v14h-19zM1064 821h18v4h-18zM1459 821h14v4h-14zM1077 825h14v5h-14zM1446 825h18v5h-18zM1077 830h19v14h-19zM1441 830h23v14h-23zM1082 844h23v4h-23zM1446 844h13v4h-13zM1091 848h19v14h-19zM1432 848h14v5h-14zM1427 853h23v14h-23zM1096 862h14v5h-14zM1110 867h13v4h-13zM1432 867h14v4h-14zM1105 871h23v14h-23zM1418 871h14v5h-14zM1413 876h19v14h-19zM1110 885h18v5h-18zM1123 890h14v4h-14zM1400 890h27v4h-27zM1123 894h19v14h-19zM1395 894h23v14h-23zM1128 908h23v5h-23zM1386 908h27v5h-27zM1137 913h19v14h-19zM1381 913h23v14h-23zM1142 927h27v4h-27zM1372 927h28v4h-28zM1151 931h23v5h-23zM1367 931h19v5h-19zM1151 936h32v4h-32zM1354 936h32v4h-32zM1151 940h37v5h-37zM1349 940h37v5h-37zM1156 945h32v5h-32zM1349 945h32v5h-32zM1169 950h28v4h-28zM1340 950h32v4h-32zM1174 954h28v5h-28zM1335 954h32v5h-32zM1183 959h32v5h-32zM1326 959h32v5h-32zM1183 964h37v4h-37zM1321 964h37v4h-37zM1188 968h41v5h-41zM1308 968h46v5h-46zM1197 973h37v4h-37zM1303 973h37v4h-37zM1202 977h41v5h-41zM1294 977h41v5h-41zM1215 982h60v5h-60zM1280 982h46v5h-46zM1220 987h101v4h-101zM1229 991h83v5h-83zM1234 996h74v4h-74zM1248 1000h27v5h-27zM1280 1000h9v5h-9z"/>
</g>
<defs>
<filter id="fy8" filterUnits="userSpaceOnUse" primitiveUnits="userSpaceOnUse" x="120" y="6" width="83" height="50" color-interpolation-filters="sRGB">
<feMorphology in="SourceGraphic" operator="dilate" radius="0 1" result="t"/>
<feGaussianBlur in="t" stdDeviation="1.3" result="b"/>
<feFlood x="122" y="8" width="1" height="1" flood-color="#000" result="d0"/>
<feFlood x="126" y="8" width="1" height="1" flood-color="#000" result="d1"/>
<feFlood x="131" y="8" width="1" height="1" flood-color="#000" result="d2"/>
<feFlood x="136" y="8" width="1" height="1" flood-color="#000" result="d3"/>
<feFlood x="140" y="8" width="1" height="1" flood-color="#000" result="d4"/>
<feFlood x="122" y="12" width="1" height="1" flood-color="#000" result="d5"/>
<feFlood x="126" y="12" width="1" height="1" flood-color="#000" result="d6"/>
<feFlood x="131" y="12" width="1" height="1" flood-color="#000" result="d7"/>
<feFlood x="136" y="12" width="1" height="1" flood-color="#000" result="d8"/>
<feFlood x="140" y="12" width="1" height="1" flood-color="#000" result="d9"/>
<feFlood x="122" y="17" width="1" height="1" flood-color="#000" result="d10"/>
<feFlood x="126" y="17" width="1" height="1" flood-color="#000" result="d11"/>
<feFlood x="131" y="17" width="1" height="1" flood-color="#000" result="d12"/>
<feFlood x="136" y="17" width="1" height="1" flood-color="#000" result="d13"/>
<feFlood x="140" y="17" width="1" height="1" flood-color="#000" result="d14"/>
<feFlood x="122" y="22" width="1" height="1" flood-color="#000" result="d15"/>
<feFlood x="126" y="22" width="1" height="1" flood-color="#000" result="d16"/>
<feFlood x="131" y="22" width="1" height="1" flood-color="#000" result="d17"/>
<feFlood x="136" y="22" width="1" height="1" flood-color="#000" result="d18"/>
<feFlood x="140" y="22" width="1" height="1" flood-color="#000" result="d19"/>
<feFlood x="122" y="26" width="1" height="1" flood-color="#000" result="d20"/>
<feFlood x="126" y="26" width="1" height="1" flood-color="#000" result="d21"/>
<feFlood x="131" y="26" width="1" height="1" flood-color="#000" result="d22"/>
<feFlood x="136" y="26" width="1" height="1" flood-color="#000" result="d23"/>
<feFlood x="140" y="26" width="1" height="1" flood-color="#000" result="d24"/>
<feMerge x="120" y="6" width="23" height="23" result="cell"><feMergeNode in="d0"/><feMergeNode in="d1"/><feMergeNode in="d2"/><feMergeNode in="d3"/><feMergeNode in="d4"/><feMergeNode in="d5"/><feMergeNode in="d6"/><feMergeNode in="d7"/><feMergeNode in="d8"/><feMergeNode in="d9"/><feMergeNode in="d10"/><feMergeNode in="d11"/><feMergeNode in="d12"/><feMergeNode in="d13"/><feMergeNode in="d14"/><feMergeNode in="d15"/><feMergeNode in="d16"/><feMergeNode in="d17"/><feMergeNode in="d18"/><feMergeNode in="d19"/><feMergeNode in="d20"/><feMergeNode in="d21"/><feMergeNode in="d22"/><feMergeNode in="d23"/><feMergeNode in="d24"/></feMerge>
<feTile in="cell" x="120" y="6" width="83" height="50" result="grid"/>
<feComposite in="b" in2="grid" operator="in" result="s"/>
<feMorphology in="s" operator="dilate" radius="2"/>
</filter>
<filter id="fy35" filterUnits="userSpaceOnUse" primitiveUnits="userSpaceOnUse" x="120" y="130" width="83" height="51" color-interpolation-filters="sRGB">
<feMorphology in="SourceGraphic" operator="dilate" radius="0 1" result="t"/>
<feGaussianBlur in="t" stdDeviation="1.3" result="b"/>
<feFlood x="122" y="132" width="1" height="1" flood-color="#000" result="d0"/>
<feFlood x="126" y="132" width="1" height="1" flood-color="#000" result="d1"/>
<feFlood x="131" y="132" width="1" height="1" flood-color="#000" result="d2"/>
<feFlood x="136" y="132" width="1" height="1" flood-color="#000" result="d3"/>
<feFlood x="140" y="132" width="1" height="1" flood-color="#000" result="d4"/>
<feFlood x="122" y="137" width="1" height="1" flood-color="#000" result="d5"/>
<feFlood x="126" y="137" width="1" height="1" flood-color="#000" result="d6"/>
<feFlood x="131" y="137" width="1" height="1" flood-color="#000" result="d7"/>
<feFlood x="136" y="137" width="1" height="1" flood-color="#000" result="d8"/>
<feFlood x="140" y="137" width="1" height="1" flood-color="#000" result="d9"/>
<feFlood x="122" y="141" width="1" height="1" flood-color="#000" result="d10"/>
<feFlood x="126" y="141" width="1" height="1" flood-color="#000" result="d11"/>
<feFlood x="131" y="141" width="1" height="1" flood-color="#000" result="d12"/>
<feFlood x="136" y="141" width="1" height="1" flood-color="#000" result="d13"/>
<feFlood x="140" y="141" width="1" height="1" flood-color="#000" result="d14"/>
<feFlood x="122" y="146" width="1" height="1" flood-color="#000" result="d15"/>
<feFlood x="126" y="146" width="1" height="1" flood-color="#000" result="d16"/>
<feFlood x="131" y="146" width="1" height="1" flood-color="#000" result="d17"/>
<feFlood x="136" y="146" width="1" height="1" flood-color="#000" result="d18"/>
<feFlood x="140" y="146" width="1" height="1" flood-color="#000" result="d19"/>
<feFlood x="122" y="151" width="1" height="1" flood-color="#000" result="d20"/>
<feFlood x="126" y="151" width="1" height="1" flood-color="#000" result="d21"/>
<feFlood x="131" y="151" width="1" height="1" flood-color="#000" result="d22"/>
<feFlood x="136" y="151" width="1" height="1" flood-color="#000" result="d23"/>
<feFlood x="140" y="151" width="1" height="1" flood-color="#000" result="d24"/>
<feMerge x="120" y="130" width="23" height="23" result="cell"><feMergeNode in="d0"/><feMergeNode in="d1"/><feMergeNode in="d2"/><feMergeNode in="d3"/><feMergeNode in="d4"/><feMergeNode in="d5"/><feMergeNode in="d6"/><feMergeNode in="d7"/><feMergeNode in="d8"/><feMergeNode in="d9"/><feMergeNode in="d10"/><feMergeNode in="d11"/><feMergeNode in="d12"/><feMergeNode in="d13"/><feMergeNode in="d14"/><feMergeNode in="d15"/><feMergeNode in="d16"/><feMergeNode in="d17"/><feMergeNode in="d18"/><feMergeNode in="d19"/><feMergeNode in="d20"/><feMergeNode in="d21"/><feMergeNode in="d22"/><feMergeNode in="d23"/><feMergeNode in="d24"/></feMerge>
<feTile in="cell" x="120" y="130" width="83" height="51" result="grid"/>
<feComposite in="b" in2="grid" operator="in" result="s"/>
<feMorphology in="s" operator="dilate" radius="2"/>
</filter>
<filter id="fy63" filterUnits="userSpaceOnUse" primitiveUnits="userSpaceOnUse" x="120" y="259" width="83" height="51" color-interpolation-filters="sRGB">
<feMorphology in="SourceGraphic" operator="dilate" radius="0 1" result="t"/>
<feGaussianBlur in="t" stdDeviation="1.3" result="b"/>
<feFlood x="122" y="261" width="1" height="1" flood-color="#000" result="d0"/>
<feFlood x="126" y="261" width="1" height="1" flood-color="#000" result="d1"/>
<feFlood x="131" y="261" width="1" height="1" flood-color="#000" result="d2"/>
<feFlood x="136" y="261" width="1" height="1" flood-color="#000" result="d3"/>
<feFlood x="140" y="261" width="1" height="1" flood-color="#000" result="d4"/>
<feFlood x="122" y="266" width="1" height="1" flood-color="#000" result="d5"/>
<feFlood x="126" y="266" width="1" height="1" flood-color="#000" result="d6"/>
<feFlood x="131" y="266" width="1" height="1" flood-color="#000" result="d7"/>
<feFlood x="136" y="266" width="1" height="1" flood-color="#000" result="d8"/>
<feFlood x="140" y="266" width="1" height="1" flood-color="#000" result="d9"/>
<feFlood x="122" y="270" width="1" height="1" flood-color="#000" result="d10"/>
<feFlood x="126" y="270" width="1" height="1" flood-color="#000" result="d11"/>
<feFlood x="131" y="270" width="1" height="1" flood-color="#000" result="d12"/>
<feFlood x="136" y="270" width="1" height="1" flood-color="#000" result="d13"/>
<feFlood x="140" y="270" width="1" height="1" flood-color="#000" result="d14"/>
<feFlood x="122" y="275" width="1" height="1" flood-color="#000" result="d15"/>
<feFlood x="126" y="275" width="1" height="1" flood-color="#000" result="d16"/>
<feFlood x="131" y="275" width="1" height="1" flood-color="#000" result="d17"/>
<feFlood x="136" y="275" width="1" height="1" flood-color="#000" result="d18"/>
<feFlood x="140" y="275" width="1" height="1" flood-color="#000" result="d19"/>
<feFlood x="122" y="279" width="1" height="1" flood-color="#000" result="d20"/>
<feFlood x="126" y="279" width="1" height="1" flood-color="#000" result="d21"/>
<feFlood x="131" y="279" width="1" height="1" flood-color="#000" result="d22"/>
<feFlood x="136" y="279" width="1" height="1" flood-color="#000" result="d23"/>
<feFlood x="140" y="279" width="1" height="1" flood-color="#000" result="d24"/>
<feMerge x="120" y="259" width="23" height="23" result="cell"><feMergeNode in="d0"/><feMergeNode in="d1"/><feMergeNode in="d2"/><feMergeNode in="d3"/><feMergeNode in="d4"/><feMergeNode in="d5"/><feMergeNode in="d6"/><feMergeNode in="d7"/><feMergeNode in="d8"/><feMergeNode in="d9"/><feMergeNode in="d10"/><feMergeNode in="d11"/><feMergeNode in="d12"/><feMergeNode in="d13"/><feMergeNode in="d14"/><feMergeNode in="d15"/><feMergeNode in="d16"/><feMergeNode in="d17"/><feMergeNode in="d18"/><feMergeNode in="d19"/><feMergeNode in="d20"/><feMergeNode in="d21"/><feMergeNode in="d22"/><feMergeNode in="d23"/><feMergeNode in="d24"/></feMerge>
<feTile in="cell" x="120" y="259" width="83" height="51" result="grid"/>
<feComposite in="b" in2="grid" operator="in" result="s"/>
<feMorphology in="s" operator="dilate" radius="2"/>
</filter>
<filter id="fy90" filterUnits="userSpaceOnUse" primitiveUnits="userSpaceOnUse" x="120" y="383" width="83" height="51" color-interpolation-filters="sRGB">
<feMorphology in="SourceGraphic" operator="dilate" radius="0 1" result="t"/>
<feGaussianBlur in="t" stdDeviation="1.3" result="b"/>
<feFlood x="122" y="385" width="1" height="1" flood-color="#000" result="d0"/>
<feFlood x="126" y="385" width="1" height="1" flood-color="#000" result="d1"/>
<feFlood x="131" y="385" width="1" height="1" flood-color="#000" result="d2"/>
<feFlood x="136" y="385" width="1" height="1" flood-color="#000" result="d3"/>
<feFlood x="140" y="385" width="1" height="1" flood-color="#000" result="d4"/>
<feFlood x="122" y="390" width="1" height="1" flood-color="#000" result="d5"/>
<feFlood x="126" y="390" width="1" height="1" flood-color="#000" result="d6"/>
<feFlood x="131" y="390" width="1" height="1" flood-color="#000" result="d7"/>
<feFlood x="136" y="390" width="1" height="1" flood-color="#000" result="d8"/>
<feFlood x="140" y="390" width="1" height="1" flood-color="#000" result="d9"/>
<feFlood x="122" y="395" width="1" height="1" flood-color="#000" result="d10"/>
<feFlood x="126" y="395" width="1" height="1" flood-color="#000" result="d11"/>
<feFlood x="131" y="395" width="1" height="1" flood-color="#000" result="d12"/>
<feFlood x="136" y="395" width="1" height="1" flood-color="#000" result="d13"/>
<feFlood x="140" y="395" width="1" height="1" flood-color="#000" result="d14"/>
<feFlood x="122" y="399" width="1" height="1" flood-color="#000" result="d15"/>
<feFlood x="126" y="399" width="1" height="1" flood-color="#000" result="d16"/>
<feFlood x="131" y="399" width="1" height="1" flood-color="#000" result="d17"/>
<feFlood x="136" y="399" width="1" height="1" flood-color="#000" result="d18"/>
<feFlood x="140" y="399" width="1" height="1" flood-color="#000" result="d19"/>
<feFlood x="122" y="404" width="1" height="1" flood-color="#000" result="d20"/>
<feFlood x="126" y="404" width="1" height="1" flood-color="#000" result="d21"/>
<feFlood x="131" y="404" width="1" height="1" flood-color="#000" result="d22"/>
<feFlood x="136" y="404" width="1" height="1" flood-color="#000" result="d23"/>
<feFlood x="140" y="404" width="1" height="1" flood-color="#000" result="d24"/>
<feMerge x="120" y="383" width="23" height="23" result="cell"><feMergeNode in="d0"/><feMergeNode in="d1"/><feMergeNode in="d2"/><feMergeNode in="d3"/><feMergeNode in="d4"/><feMergeNode in="d5"/><feMergeNode in="d6"/><feMergeNode in="d7"/><feMergeNode in="d8"/><feMergeNode in="d9"/><feMergeNode in="d10"/><feMergeNode in="d11"/><feMergeNode in="d12"/><feMergeNode in="d13"/><feMergeNode in="d14"/><feMergeNode in="d15"/><feMergeNode in="d16"/><feMergeNode in="d17"/><feMergeNode in="d18"/><feMergeNode in="d19"/><feMergeNode in="d20"/><feMergeNode in="d21"/><feMergeNode in="d22"/><feMergeNode in="d23"/><feMergeNode in="d24"/></feMerge>
<feTile in="cell" x="120" y="383" width="83" height="51" result="grid"/>
<feComposite in="b" in2="grid" operator="in" result="s"/>
<feMorphology in="s" operator="dilate" radius="2"/>
</filter>
<filter id="fy118" filterUnits="userSpaceOnUse" primitiveUnits="userSpaceOnUse" x="120" y="512" width="83" height="51" color-interpolation-filters="sRGB">
<feMorphology in="SourceGraphic" operator="dilate" radius="0 1" result="t"/>
<feGaussianBlur in="t" stdDeviation="1.3" result="b"/>
<feFlood x="122" y="514" width="1" height="1" flood-color="#000" result="d0"/>
<feFlood x="126" y="514" width="1" height="1" flood-color="#000" result="d1"/>
<feFlood x="131" y="514" width="1" height="1" flood-color="#000" result="d2"/>
<feFlood x="136" y="514" width="1" height="1" flood-color="#000" result="d3"/>
<feFlood x="140" y="514" width="1" height="1" flood-color="#000" result="d4"/>
<feFlood x="122" y="519" width="1" height="1" flood-color="#000" result="d5"/>
<feFlood x="126" y="519" width="1" height="1" flood-color="#000" result="d6"/>
<feFlood x="131" y="519" width="1" height="1" flood-color="#000" result="d7"/>
<feFlood x="136" y="519" width="1" height="1" flood-color="#000" result="d8"/>
<feFlood x="140" y="519" width="1" height="1" flood-color="#000" result="d9"/>
<feFlood x="122" y="523" width="1" height="1" flood-color="#000" result="d10"/>
<feFlood x="126" y="523" width="1" height="1" flood-color="#000" result="d11"/>
<feFlood x="131" y="523" width="1" height="1" flood-color="#000" result="d12"/>
<feFlood x="136" y="523" width="1" height="1" flood-color="#000" result="d13"/>
<feFlood x="140" y="523" width="1" height="1" flood-color="#000" result="d14"/>
<feFlood x="122" y="528" width="1" height="1" flood-color="#000" result="d15"/>
<feFlood x="126" y="528" width="1" height="1" flood-color="#000" result="d16"/>
<feFlood x="131" y="528" width="1" height="1" flood-color="#000" result="d17"/>
<feFlood x="136" y="528" width="1" height="1" flood-color="#000" result="d18"/>
<feFlood x="140" y="528" width="1" height="1" flood-color="#000" result="d19"/>
<feFlood x="122" y="533" width="1" height="1" flood-color="#000" result="d20"/>
<feFlood x="126" y="533" width="1" height="1" flood-color="#000" result="d21"/>
<feFlood x="131" y="533" width="1" height="1" flood-color="#000" result="d22"/>
<feFlood x="136" y="533" width="1" height="1" flood-color="#000" result="d23"/>
<feFlood x="140" y="533" width="1" height="1" flood-color="#000" result="d24"/>
<feMerge x="120" y="512" width="23" height="23" result="cell"><feMergeNode in="d0"/><feMergeNode in="d1"/><feMergeNode in="d2"/><feMergeNode in="d3"/><feMergeNode in="d4"/><feMergeNode in="d5"/><feMergeNode in="d6"/><feMergeNode in="d7"/><feMergeNode in="d8"/><feMergeNode in="d9"/><feMergeNode in="d10"/><feMergeNode in="d11"/><feMergeNode in="d12"/><feMergeNode in="d13"/><feMergeNode in="d14"/><feMergeNode in="d15"/><feMergeNode in="d16"/><feMergeNode in="d17"/><feMergeNode in="d18"/><feMergeNode in="d19"/><feMergeNode in="d20"/><feMergeNode in="d21"/><feMergeNode in="d22"/><feMergeNode in="d23"/><feMergeNode in="d24"/></feMerge>
<feTile in="cell" x="120" y="512" width="83" height="51" result="grid"/>
<feComposite in="b" in2="grid" operator="in" result="s"/>
<feMorphology in="s" operator="dilate" radius="2"/>
</filter>
<filter id="fy145" filterUnits="userSpaceOnUse" primitiveUnits="userSpaceOnUse" x="120" y="637" width="83" height="50" color-interpolation-filters="sRGB">
<feMorphology in="SourceGraphic" operator="dilate" radius="0 1" result="t"/>
<feGaussianBlur in="t" stdDeviation="1.3" result="b"/>
<feFlood x="122" y="639" width="1" height="1" flood-color="#000" result="d0"/>
<feFlood x="126" y="639" width="1" height="1" flood-color="#000" result="d1"/>
<feFlood x="131" y="639" width="1" height="1" flood-color="#000" result="d2"/>
<feFlood x="136" y="639" width="1" height="1" flood-color="#000" result="d3"/>
<feFlood x="140" y="639" width="1" height="1" flood-color="#000" result="d4"/>
<feFlood x="122" y="643" width="1" height="1" flood-color="#000" result="d5"/>
<feFlood x="126" y="643" width="1" height="1" flood-color="#000" result="d6"/>
<feFlood x="131" y="643" width="1" height="1" flood-color="#000" result="d7"/>
<feFlood x="136" y="643" width="1" height="1" flood-color="#000" result="d8"/>
<feFlood x="140" y="643" width="1" height="1" flood-color="#000" result="d9"/>
<feFlood x="122" y="648" width="1" height="1" flood-color="#000" result="d10"/>
<feFlood x="126" y="648" width="1" height="1" flood-color="#000" result="d11"/>
<feFlood x="131" y="648" width="1" height="1" flood-color="#000" result="d12"/>
<feFlood x="136" y="648" width="1" height="1" flood-color="#000" result="d13"/>
<feFlood x="140" y="648" width="1" height="1" flood-color="#000" result="d14"/>
<feFlood x="122" y="652" width="1" height="1" flood-color="#000" result="d15"/>
<feFlood x="126" y="652" width="1" height="1" flood-color="#000" result="d16"/>
<feFlood x="131" y="652" width="1" height="1" flood-color="#000" result="d17"/>
<feFlood x="136" y="652" width="1" height="1" flood-color="#000" result="d18"/>
<feFlood x="140" y="652" width="1" height="1" flood-color="#000" result="d19"/>
<feFlood x="122" y="657" width="1" height="1" flood-color="#000" result="d20"/>
<feFlood x="126" y="657" width="1" height="1" flood-color="#000" result="d21"/>
<feFlood x="131" y="657" width="1" height="1" flood-color="#000" result="d22"/>
<feFlood x="136" y="657" width="1" height="1" flood-color="#000" result="d23"/>
<feFlood x="140" y="657" width="1" height="1" flood-color="#000" result="d24"/>
<feMerge x="120" y="637" width="23" height="23" result="cell"><feMergeNode in="d0"/><feMergeNode in="d1"/><feMergeNode in="d2"/><feMergeNode in="d3"/><feMergeNode in="d4"/><feMergeNode in="d5"/><feMergeNode in="d6"/><feMergeNode in="d7"/><feMergeNode in="d8"/><feMergeNode in="d9"/><feMergeNode in="d10"/><feMergeNode in="d11"/><feMergeNode in="d12"/><feMergeNode in="d13"/><feMergeNode in="d14"/><feMergeNode in="d15"/><feMergeNode in="d16"/><feMergeNode in="d17"/><feMergeNode in="d18"/><feMergeNode in="d19"/><feMergeNode in="d20"/><feMergeNode in="d21"/><feMergeNode in="d22"/><feMergeNode in="d23"/><feMergeNode in="d24"/></feMerge>
<feTile in="cell" x="120" y="637" width="83" height="50" result="grid"/>
<feComposite in="b" in2="grid" operator="in" result="s"/>
<feMorphology in="s" operator="dilate" radius="2"/>
</filter>
<filter id="fy173" filterUnits="userSpaceOnUse" primitiveUnits="userSpaceOnUse" x="120" y="766" width="83" height="50" color-interpolation-filters="sRGB">
<feMorphology in="SourceGraphic" operator="dilate" radius="0 1" result="t"/>
<feGaussianBlur in="t" stdDeviation="1.3" result="b"/>
<feFlood x="122" y="768" width="1" height="1" flood-color="#000" result="d0"/>
<feFlood x="126" y="768" width="1" height="1" flood-color="#000" result="d1"/>
<feFlood x="131" y="768" width="1" height="1" flood-color="#000" result="d2"/>
<feFlood x="136" y="768" width="1" height="1" flood-color="#000" result="d3"/>
<feFlood x="140" y="768" width="1" height="1" flood-color="#000" result="d4"/>
<feFlood x="122" y="772" width="1" height="1" flood-color="#000" result="d5"/>
<feFlood x="126" y="772" width="1" height="1" flood-color="#000" result="d6"/>
<feFlood x="131" y="772" width="1" height="1" flood-color="#000" result="d7"/>
<feFlood x="136" y="772" width="1" height="1" flood-color="#000" result="d8"/>
<feFlood x="140" y="772" width="1" height="1" flood-color="#000" result="d9"/>
<feFlood x="122" y="777" width="1" height="1" flood-color="#000" result="d10"/>
<feFlood x="126" y="777" width="1" height="1" flood-color="#000" result="d11"/>
<feFlood x="131" y="777" width="1" height="1" flood-color="#000" result="d12"/>
<feFlood x="136" y="777" width="1" height="1" flood-color="#000" result="d13"/>
<feFlood x="140" y="777" width="1" height="1" flood-color="#000" result="d14"/>
<feFlood x="122" y="781" width="1" height="1" flood-color="#000" result="d15"/>
<feFlood x="126" y="781" width="1" height="1" flood-color="#000" result="d16"/>
<feFlood x="131" y="781" width="1" height="1" flood-color="#000" result="d17"/>
<feFlood x="136" y="781" width="1" height="1" flood-color="#000" result="d18"/>
<feFlood x="140" y="781" width="1" height="1" flood-color="#000" result="d19"/>
<feFlood x="122" y="786" width="1" height="1" flood-color="#000" result="d20"/>
<feFlood x="126" y="786" width="1" height="1" flood-color="#000" result="d21"/>
<feFlood x="131" y="786" width="1" height="1" flood-color="#000" result="d22"/>
<feFlood x="136" y="786" width="1" height="1" flood-color="#000" result="d23"/>
<feFlood x="140" y="786" width="1" height="1" flood-color="#000" result="d24"/>
<feMerge x="120" y="766" width="23" height="23" result="cell"><feMergeNode in="d0"/><feMergeNode in="d1"/><feMergeNode in="d2"/><feMergeNode in="d3"/><feMergeNode in="d4"/><feMergeNode in="d5"/><feMergeNode in="d6"/><feMergeNode in="d7"/><feMergeNode in="d8"/><feMergeNode in="d9"/><feMergeNode in="d10"/><feMergeNode in="d11"/><feMergeNode in="d12"/><feMergeNode in="d13"/><feMergeNode in="d14"/><feMergeNode in="d15"/><feMergeNode in="d16"/><feMergeNode in="d17"/><feMergeNode in="d18"/><feMergeNode in="d19"/><feMergeNode in="d20"/><feMergeNode in="d21"/><feMergeNode in="d22"/><feMergeNode in="d23"/><feMergeNode in="d24"/></feMerge>
<feTile in="cell" x="120" y="766" width="83" height="50" result="grid"/>
<feComposite in="b" in2="grid" operator="in" result="s"/>
<feMorphology in="s" operator="dilate" radius="2"/>
</filter>
<filter id="fy200" filterUnits="userSpaceOnUse" primitiveUnits="userSpaceOnUse" x="120" y="890" width="83" height="50" color-interpolation-filters="sRGB">
<feMorphology in="SourceGraphic" operator="dilate" radius="0 1" result="t"/>
<feGaussianBlur in="t" stdDeviation="1.3" result="b"/>
<feFlood x="122" y="892" width="1" height="1" flood-color="#000" result="d0"/>
<feFlood x="126" y="892" width="1" height="1" flood-color="#000" result="d1"/>
<feFlood x="131" y="892" width="1" height="1" flood-color="#000" result="d2"/>
<feFlood x="136" y="892" width="1" height="1" flood-color="#000" result="d3"/>
<feFlood x="140" y="892" width="1" height="1" flood-color="#000" result="d4"/>
<feFlood x="122" y="896" width="1" height="1" flood-color="#000" result="d5"/>
<feFlood x="126" y="896" width="1" height="1" flood-color="#000" result="d6"/>
<feFlood x="131" y="896" width="1" height="1" flood-color="#000" result="d7"/>
<feFlood x="136" y="896" width="1" height="1" flood-color="#000" result="d8"/>
<feFlood x="140" y="896" width="1" height="1" flood-color="#000" result="d9"/>
<feFlood x="122" y="901" width="1" height="1" flood-color="#000" result="d10"/>
<feFlood x="126" y="901" width="1" height="1" flood-color="#000" result="d11"/>
<feFlood x="131" y="901" width="1" height="1" flood-color="#000" result="d12"/>
<feFlood x="136" y="901" width="1" height="1" flood-color="#000" result="d13"/>
<feFlood x="140" y="901" width="1" height="1" flood-color="#000" result="d14"/>
<feFlood x="122" y="906" width="1" height="1" flood-color="#000" result="d15"/>
<feFlood x="126" y="906" width="1" height="1" flood-color="#000" result="d16"/>
<feFlood x="131" y="906" width="1" height="1" flood-color="#000" result="d17"/>
<feFlood x="136" y="906" width="1" height="1" flood-color="#000" result="d18"/>
<feFlood x="140" y="906" width="1" height="1" flood-color="#000" result="d19"/>
<feFlood x="122" y="910" width="1" height="1" flood-color="#000" result="d20"/>
<feFlood x="126" y="910" width="1" height="1" flood-color="#000" result="d21"/>
<feFlood x="131" y="910" width="1" height="1" flood-color="#000" result="d22"/>
<feFlood x="136" y="910" width="1" height="1" flood-color="#000" result="d23"/>
<feFlood x="140" y="910" width="1" height="1" flood-color="#000" result="d24"/>
<feMerge x="120" y="890" width="23" height="23" result="cell"><feMergeNode in="d0"/><feMergeNode in="d1"/><feMergeNode in="d2"/><feMergeNode in="d3"/><feMergeNode in="d4"/><feMergeNode in="d5"/><feMergeNode in="d6"/><feMergeNode in="d7"/><feMergeNode in="d8"/><feMergeNode in="d9"/><feMergeNode in="d10"/><feMergeNode in="d11"/><feMergeNode in="d12"/><feMergeNode in="d13"/><feMergeNode in="d14"/><feMergeNode in="d15"/><feMergeNode in="d16"/><feMergeNode in="d17"/><feMergeNode in="d18"/><feMergeNode in="d19"/><feMergeNode in="d20"/><feMergeNode in="d21"/><feMergeNode in="d22"/><feMergeNode in="d23"/><feMergeNode in="d24"/></feMerge>
<feTile in="cell" x="120" y="890" width="83" height="50" result="grid"/>
<feComposite in="b" in2="grid" operator="in" result="s"/>
<feMorphology in="s" operator="dilate" radius="2"/>
</filter>
<filter id="fy228" filterUnits="userSpaceOnUse" primitiveUnits="userSpaceOnUse" x="120" y="1019" width="83" height="50" color-interpolation-filters="sRGB">
<feMorphology in="SourceGraphic" operator="dilate" radius="0 1" result="t"/>
<feGaussianBlur in="t" stdDeviation="1.3" result="b"/>
<feFlood x="122" y="1021" width="1" height="1" flood-color="#000" result="d0"/>
<feFlood x="126" y="1021" width="1" height="1" flood-color="#000" result="d1"/>
<feFlood x="131" y="1021" width="1" height="1" flood-color="#000" result="d2"/>
<feFlood x="136" y="1021" width="1" height="1" flood-color="#000" result="d3"/>
<feFlood x="140" y="1021" width="1" height="1" flood-color="#000" result="d4"/>
<feFlood x="122" y="1025" width="1" height="1" flood-color="#000" result="d5"/>
<feFlood x="126" y="1025" width="1" height="1" flood-color="#000" result="d6"/>
<feFlood x="131" y="1025" width="1" height="1" flood-color="#000" result="d7"/>
<feFlood x="136" y="1025" width="1" height="1" flood-color="#000" result="d8"/>
<feFlood x="140" y="1025" width="1" height="1" flood-color="#000" result="d9"/>
<feFlood x="122" y="1030" width="1" height="1" flood-color="#000" result="d10"/>
<feFlood x="126" y="1030" width="1" height="1" flood-color="#000" result="d11"/>
<feFlood x="131" y="1030" width="1" height="1" flood-color="#000" result="d12"/>
<feFlood x="136" y="1030" width="1" height="1" flood-color="#000" result="d13"/>
<feFlood x="140" y="1030" width="1" height="1" flood-color="#000" result="d14"/>
<feFlood x="122" y="1035" width="1" height="1" flood-color="#000" result="d15"/>
<feFlood x="126" y="1035" width="1" height="1" flood-color="#000" result="d16"/>
<feFlood x="131" y="1035" width="1" height="1" flood-color="#000" result="d17"/>
<feFlood x="136" y="1035" width="1" height="1" flood-color="#000" result="d18"/>
<feFlood x="140" y="1035" width="1" height="1" flood-color="#000" result="d19"/>
<feFlood x="122" y="1039" width="1" height="1" flood-color="#000" result="d20"/>
<feFlood x="126" y="1039" width="1" height="1" flood-color="#000" result="d21"/>
<feFlood x="131" y="1039" width="1" height="1" flood-color="#000" result="d22"/>
<feFlood x="136" y="1039" width="1" height="1" flood-color="#000" result="d23"/>
<feFlood x="140" y="1039" width="1" height="1" flood-color="#000" result="d24"/>
<feMerge x="120" y="1019" width="23" height="23" result="cell"><feMergeNode in="d0"/><feMergeNode in="d1"/><feMergeNode in="d2"/><feMergeNode in="d3"/><feMergeNode in="d4"/><feMergeNode in="d5"/><feMergeNode in="d6"/><feMergeNode in="d7"/><feMergeNode in="d8"/><feMergeNode in="d9"/><feMergeNode in="d10"/><feMergeNode in="d11"/><feMergeNode in="d12"/><feMergeNode in="d13"/><feMergeNode in="d14"/><feMergeNode in="d15"/><feMergeNode in="d16"/><feMergeNode in="d17"/><feMergeNode in="d18"/><feMergeNode in="d19"/><feMergeNode in="d20"/><feMergeNode in="d21"/><feMergeNode in="d22"/><feMergeNode in="d23"/><feMergeNode in="d24"/></feMerge>
<feTile in="cell" x="120" y="1019" width="83" height="50" result="grid"/>
<feComposite in="b" in2="grid" operator="in" result="s"/>
<feMorphology in="s" operator="dilate" radius="2"/>
</filter>
<filter id="fx50" filterUnits="userSpaceOnUse" primitiveUnits="userSpaceOnUse" x="180" y="1074" width="105" height="51" color-interpolation-filters="sRGB">
<feMorphology in="SourceGraphic" operator="dilate" radius="0 1" result="t"/>
<feGaussianBlur in="t" stdDeviation="1.3" result="b"/>
<feFlood x="182" y="1076" width="1" height="1" flood-color="#000" result="d0"/>
<feFlood x="186" y="1076" width="1" height="1" flood-color="#000" result="d1"/>
<feFlood x="191" y="1076" width="1" height="1" flood-color="#000" result="d2"/>
<feFlood x="195" y="1076" width="1" height="1" flood-color="#000" result="d3"/>
<feFlood x="200" y="1076" width="1" height="1" flood-color="#000" result="d4"/>
<feFlood x="182" y="1081" width="1" height="1" flood-color="#000" result="d5"/>
<feFlood x="186" y="1081" width="1" height="1" flood-color="#000" result="d6"/>
<feFlood x="191" y="1081" width="1" height="1" flood-color="#000" result="d7"/>
<feFlood x="195" y="1081" width="1" height="1" flood-color="#000" result="d8"/>
<feFlood x="200" y="1081" width="1" height="1" flood-color="#000" result="d9"/>
<feFlood x="182" y="1085" width="1" height="1" flood-color="#000" result="d10"/>
<feFlood x="186" y="1085" width="1" height="1" flood-color="#000" result="d11"/>
<feFlood x="191" y="1085" width="1" height="1" flood-color="#000" result="d12"/>
<feFlood x="195" y="1085" width="1" height="1" flood-color="#000" result="d13"/>
<feFlood x="200" y="1085" width="1" height="1" flood-color="#000" result="d14"/>
<feFlood x="182" y="1090" width="1" height="1" flood-color="#000" result="d15"/>
<feFlood x="186" y="1090" width="1" height="1" flood-color="#000" result="d16"/>
<feFlood x="191" y="1090" width="1" height="1" flood-color="#000" result="d17"/>
<feFlood x="195" y="1090" width="1" height="1" flood-color="#000" result="d18"/>
<feFlood x="200" y="1090" width="1" height="1" flood-color="#000" result="d19"/>
<feFlood x="182" y="1094" width="1" height="1" flood-color="#000" result="d20"/>
<feFlood x="186" y="1094" width="1" height="1" flood-color="#000" result="d21"/>
<feFlood x="191" y="1094" width="1" height="1" flood-color="#000" result="d22"/>
<feFlood x="195" y="1094" width="1" height="1" flood-color="#000" result="d23"/>
<feFlood x="200" y="1094" width="1" height="1" flood-color="#000" result="d24"/>
<feMerge x="180" y="1074" width="23" height="23" result="cell"><feMergeNode in="d0"/><feMergeNode in="d1"/><feMergeNode in="d2"/><feMergeNode in="d3"/><feMergeNode in="d4"/><feMergeNode in="d5"/><feMergeNode in="d6"/><feMergeNode in="d7"/><feMergeNode in="d8"/><feMergeNode in="d9"/><feMergeNode in="d10"/><feMergeNode in="d11"/><feMergeNode in="d12"/><feMergeNode in="d13"/><feMergeNode in="d14"/><feMergeNode in="d15"/><feMergeNode in="d16"/><feMergeNode in="d17"/><feMergeNode in="d18"/><feMergeNode in="d19"/><feMergeNode in="d20"/><feMergeNode in="d21"/><feMergeNode in="d22"/><feMergeNode in="d23"/><feMergeNode in="d24"/></feMerge>
<feTile in="cell" x="180" y="1074" width="105" height="51" result="grid"/>
<feComposite in="b" in2="grid" operator="in" result="s"/>
<feMorphology in="s" operator="dilate" radius="2"/>
</filter>
<filter id="fx100" filterUnits="userSpaceOnUse" primitiveUnits="userSpaceOnUse" x="410" y="1074" width="106" height="51" color-interpolation-filters="sRGB">
<feMorphology in="SourceGraphic" operator="dilate" radius="0 1" result="t"/>
<feGaussianBlur in="t" stdDeviation="1.3" result="b"/>
<feFlood x="412" y="1076" width="1" height="1" flood-color="#000" result="d0"/>
<feFlood x="416" y="1076" width="1" height="1" flood-color="#000" result="d1"/>
<feFlood x="421" y="1076" width="1" height="1" flood-color="#000" result="d2"/>
<feFlood x="426" y="1076" width="1" height="1" flood-color="#000" result="d3"/>
<feFlood x="430" y="1076" width="1" height="1" flood-color="#000" result="d4"/>
<feFlood x="412" y="1081" width="1" height="1" flood-color="#000" result="d5"/>
<feFlood x="416" y="1081" width="1" height="1" flood-color="#000" result="d6"/>
<feFlood x="421" y="1081" width="1" height="1" flood-color="#000" result="d7"/>
<feFlood x="426" y="1081" width="1" height="1" flood-color="#000" result="d8"/>
<feFlood x="430" y="1081" width="1" height="1" flood-color="#000" result="d9"/>
<feFlood x="412" y="1085" width="1" height="1" flood-color="#000" result="d10"/>
<feFlood x="416" y="1085" width="1" height="1" flood-color="#000" result="d11"/>
<feFlood x="421" y="1085" width="1" height="1" flood-color="#000" result="d12"/>
<feFlood x="426" y="1085" width="1" height="1" flood-color="#000" result="d13"/>
<feFlood x="430" y="1085" width="1" height="1" flood-color="#000" result="d14"/>
<feFlood x="412" y="1090" width="1" height="1" flood-color="#000" result="d15"/>
<feFlood x="416" y="1090" width="1" height="1" flood-color="#000" result="d16"/>
<feFlood x="421" y="1090" width="1" height="1" flood-color="#000" result="d17"/>
<feFlood x="426" y="1090" width="1" height="1" flood-color="#000" result="d18"/>
<feFlood x="430" y="1090" width="1" height="1" flood-color="#000" result="d19"/>
<feFlood x="412" y="1094" width="1" height="1" flood-color="#000" result="d20"/>
<feFlood x="416" y="1094" width="1" height="1" flood-color="#000" result="d21"/>
<feFlood x="421" y="1094" width="1" height="1" flood-color="#000" result="d22"/>
<feFlood x="426" y="1094" width="1" height="1" flood-color="#000" result="d23"/>
<feFlood x="430" y="1094" width="1" height="1" flood-color="#000" result="d24"/>
<feMerge x="410" y="1074" width="23" height="23" result="cell"><feMergeNode in="d0"/><feMergeNode in="d1"/><feMergeNode in="d2"/><feMergeNode in="d3"/><feMergeNode in="d4"/><feMergeNode in="d5"/><feMergeNode in="d6"/><feMergeNode in="d7"/><feMergeNode in="d8"/><feMergeNode in="d9"/><feMergeNode in="d10"/><feMergeNode in="d11"/><feMergeNode in="d12"/><feMergeNode in="d13"/><feMergeNode in="d14"/><feMergeNode in="d15"/><feMergeNode in="d16"/><feMergeNode in="d17"/><feMergeNode in="d18"/><feMergeNode in="d19"/><feMergeNode in="d20"/><feMergeNode in="d21"/><feMergeNode in="d22"/><feMergeNode in="d23"/><feMergeNode in="d24"/></feMerge>
<feTile in="cell" x="410" y="1074" width="106" height="51" result="grid"/>
<feComposite in="b" in2="grid" operator="in" result="s"/>
<feMorphology in="s" operator="dilate" radius="2"/>
</filter>
<filter id="fx149" filterUnits="userSpaceOnUse" primitiveUnits="userSpaceOnUse" x="635" y="1074" width="106" height="51" color-interpolation-filters="sRGB">
<feMorphology in="SourceGraphic" operator="dilate" radius="0 1" result="t"/>
<feGaussianBlur in="t" stdDeviation="1.3" result="b"/>
<feFlood x="637" y="1076" width="1" height="1" flood-color="#000" result="d0"/>
<feFlood x="642" y="1076" width="1" height="1" flood-color="#000" result="d1"/>
<feFlood x="647" y="1076" width="1" height="1" flood-color="#000" result="d2"/>
<feFlood x="651" y="1076" width="1" height="1" flood-color="#000" result="d3"/>
<feFlood x="656" y="1076" width="1" height="1" flood-color="#000" result="d4"/>
<feFlood x="637" y="1081" width="1" height="1" flood-color="#000" result="d5"/>
<feFlood x="642" y="1081" width="1" height="1" flood-color="#000" result="d6"/>
<feFlood x="647" y="1081" width="1" height="1" flood-color="#000" result="d7"/>
<feFlood x="651" y="1081" width="1" height="1" flood-color="#000" result="d8"/>
<feFlood x="656" y="1081" width="1" height="1" flood-color="#000" result="d9"/>
<feFlood x="637" y="1085" width="1" height="1" flood-color="#000" result="d10"/>
<feFlood x="642" y="1085" width="1" height="1" flood-color="#000" result="d11"/>
<feFlood x="647" y="1085" width="1" height="1" flood-color="#000" result="d12"/>
<feFlood x="651" y="1085" width="1" height="1" flood-color="#000" result="d13"/>
<feFlood x="656" y="1085" width="1" height="1" flood-color="#000" result="d14"/>
<feFlood x="637" y="1090" width="1" height="1" flood-color="#000" result="d15"/>
<feFlood x="642" y="1090" width="1" height="1" flood-color="#000" result="d16"/>
<feFlood x="647" y="1090" width="1" height="1" flood-color="#000" result="d17"/>
<feFlood x="651" y="1090" width="1" height="1" flood-color="#000" result="d18"/>
<feFlood x="656" y="1090" width="1" height="1" flood-color="#000" result="d19"/>
<feFlood x="637" y="1094" width="1" height="1" flood-color="#000" result="d20"/>
<feFlood x="642" y="1094" width="1" height="1" flood-color="#000" result="d21"/>
<feFlood x="647" y="1094" width="1" height="1" flood-color="#000" result="d22"/>
<feFlood x="651" y="1094" width="1" height="1" flood-color="#000" result="d23"/>
<feFlood x="656" y="1094" width="1" height="1" flood-color="#000" result="d24"/>
<feMerge x="635" y="1074" width="23" height="23" result="cell"><feMergeNode in="d0"/><feMergeNode in="d1"/><feMergeNode in="d2"/><feMergeNode in="d3"/><feMergeNode in="d4"/><feMergeNode in="d5"/><feMergeNode in="d6"/><feMergeNode in="d7"/><feMergeNode in="d8"/><feMergeNode in="d9"/><feMergeNode in="d10"/><feMergeNode in="d11"/><feMergeNode in="d12"/><feMergeNode in="d13"/><feMergeNode in="d14"/><feMergeNode in="d15"/><feMergeNode in="d16"/><feMergeNode in="d17"/><feMergeNode in="d18"/><feMergeNode in="d19"/><feMergeNode in="d20"/><feMergeNode in="d21"/><feMergeNode in="d22"/><feMergeNode in="d23"/><feMergeNode in="d24"/></feMerge>
<feTile in="cell" x="635" y="1074" width="106" height="51" result="grid"/>
<feComposite in="b" in2="grid" operator="in" result="s"/>
<feMorphology in="s" operator="dilate" radius="2"/>
</filter>
<filter id="fx199" filterUnits="userSpaceOnUse" primitiveUnits="userSpaceOnUse" x="866" y="1074" width="105" height="51" color-interpolation-filters="sRGB">
<feMorphology in="SourceGraphic" operator="dilate" radius="0 1" result="t"/>
<feGaussianBlur in="t" stdDeviation="1.3" result="b"/>
<feFlood x="868" y="1076" width="1" height="1" flood-color="#000" result="d0"/>
<feFlood x="872" y="1076" width="1" height="1" flood-color="#000" result="d1"/>
<feFlood x="877" y="1076" width="1" height="1" flood-color="#000" result="d2"/>
<feFlood x="881" y="1076" width="1" height="1" flood-color="#000" result="d3"/>
<feFlood x="886" y="1076" width="1" height="1" flood-color="#000" result="d4"/>
<feFlood x="868" y="1081" width="1" height="1" flood-color="#000" result="d5"/>
<feFlood x="872" y="1081" width="1" height="1" flood-color="#000" result="d6"/>
<feFlood x="877" y="1081" width="1" height="1" flood-color="#000" result="d7"/>
<feFlood x="881" y="1081" width="1" height="1" flood-color="#000" result="d8"/>
<feFlood x="886" y="1081" width="1" height="1" flood-color="#000" result="d9"/>
<feFlood x="868" y="1085" width="1" height="1" flood-color="#000" result="d10"/>
<feFlood x="872" y="1085" width="1" height="1" flood-color="#000" result="d11"/>
<feFlood x="877" y="1085" width="1" height="1" flood-color="#000" result="d12"/>
<feFlood x="881" y="1085" width="1" height="1" flood-color="#000" result="d13"/>
<feFlood x="886" y="1085" width="1" height="1" flood-color="#000" result="d14"/>
<feFlood x="868" y="1090" width="1" height="1" flood-color="#000" result="d15"/>
<feFlood x="872" y="1090" width="1" height="1" flood-color="#000" result="d16"/>
<feFlood x="877" y="1090" width="1" height="1" flood-color="#000" result="d17"/>
<feFlood x="881" y="1090" width="1" height="1" flood-color="#000" result="d18"/>
<feFlood x="886" y="1090" width="1" height="1" flood-color="#000" result="d19"/>
<feFlood x="868" y="1094" width="1" height="1" flood-color="#000" result="d20"/>
<feFlood x="872" y="1094" width="1" height="1" flood-color="#000" result="d21"/>
<feFlood x="877" y="1094" width="1" height="1" flood-color="#000" result="d22"/>
<feFlood x="881" y="1094" width="1" height="1" flood-color="#000" result="d23"/>
<feFlood x="886" y="1094" width="1" height="1" flood-color="#000" result="d24"/>
<feMerge x="866" y="1074" width="23" height="23" result="cell"><feMergeNode in="d0"/><feMergeNode in="d1"/><feMergeNode in="d2"/><feMergeNode in="d3"/><feMergeNode in="d4"/><feMergeNode in="d5"/><feMergeNode in="d6"/><feMergeNode in="d7"/><feMergeNode in="d8"/><feMergeNode in="d9"/><feMergeNode in="d10"/><feMergeNode in="d11"/><feMergeNode in="d12"/><feMergeNode in="d13"/><feMergeNode in="d14"/><feMergeNode in="d15"/><feMergeNode in="d16"/><feMergeNode in="d17"/><feMergeNode in="d18"/><feMergeNode in="d19"/><feMergeNode in="d20"/><feMergeNode in="d21"/><feMergeNode in="d22"/><feMergeNode in="d23"/><feMergeNode in="d24"/></feMerge>
<feTile in="cell" x="866" y="1074" width="105" height="51" result="grid"/>
<feComposite in="b" in2="grid" operator="in" result="s"/>
<feMorphology in="s" operator="dilate" radius="2"/>
</filter>
<filter id="fx249" filterUnits="userSpaceOnUse" primitiveUnits="userSpaceOnUse" x="1096" y="1074" width="106" height="51" color-interpolation-filters="sRGB">
<feMorphology in="SourceGraphic" operator="dilate" radius="0 1" result="t"/>
<feGaussianBlur in="t" stdDeviation="1.3" result="b"/>
<feFlood x="1098" y="1076" width="1" height="1" flood-color="#000" result="d0"/>
<feFlood x="1102" y="1076" width="1" height="1" flood-color="#000" result="d1"/>
<feFlood x="1107" y="1076" width="1" height="1" flood-color="#000" result="d2"/>
<feFlood x="1112" y="1076" width="1" height="1" flood-color="#000" result="d3"/>
<feFlood x="1116" y="1076" width="1" height="1" flood-color="#000" result="d4"/>
<feFlood x="1098" y="1081" width="1" height="1" flood-color="#000" result="d5"/>
<feFlood x="1102" y="1081" width="1" height="1" flood-color="#000" result="d6"/>
<feFlood x="1107" y="1081" width="1" height="1" flood-color="#000" result="d7"/>
<feFlood x="1112" y="1081" width="1" height="1" flood-color="#000" result="d8"/>
<feFlood x="1116" y="1081" width="1" height="1" flood-color="#000" result="d9"/>
<feFlood x="1098" y="1085" width="1" height="1" flood-color="#000" result="d10"/>
<feFlood x="1102" y="1085" width="1" height="1" flood-color="#000" result="d11"/>
<feFlood x="1107" y="1085" width="1" height="1" flood-color="#000" result="d12"/>
<feFlood x="1112" y="1085" width="1" height="1" flood-color="#000" result="d13"/>
<feFlood x="1116" y="1085" width="1" height="1" flood-color="#000" result="d14"/>
<feFlood x="1098" y="1090" width="1" height="1" flood-color="#000" result="d15"/>
<feFlood x="1102" y="1090" width="1" height="1" flood-color="#000" result="d16"/>
<feFlood x="1107" y="1090" width="1" height="1" flood-color="#000" result="d17"/>
<feFlood x="1112" y="1090" width="1" height="1" flood-color="#000" result="d18"/>
<feFlood x="1116" y="1090" width="1" height="1" flood-color="#000" result="d19"/>
<feFlood x="1098" y="1094" width="1" height="1" flood-color="#000" result="d20"/>
<feFlood x="1102" y="1094" width="1" height="1" flood-color="#000" result="d21"/>
<feFlood x="1107" y="1094" width="1" height="1" flood-color="#000" result="d22"/>
<feFlood x="1112" y="1094" width="1" height="1" flood-color="#000" result="d23"/>
<feFlood x="1116" y="1094" width="1" height="1" flood-color="#000" result="d24"/>
<feMerge x="1096" y="1074" width="23" height="23" result="cell"><feMergeNode in="d0"/><feMergeNode in="d1"/><feMergeNode in="d2"/><feMergeNode in="d3"/><feMergeNode in="d4"/><feMergeNode in="d5"/><feMergeNode in="d6"/><feMergeNode in="d7"/><feMergeNode in="d8"/><feMergeNode in="d9"/><feMergeNode in="d10"/><feMergeNode in="d11"/><feMergeNode in="d12"/><feMergeNode in="d13"/><feMergeNode in="d14"/><feMergeNode in="d15"/><feMergeNode in="d16"/><feMergeNode in="d17"/><feMergeNode in="d18"/><feMergeNode in="d19"/><feMergeNode in="d20"/><feMergeNode in="d21"/><feMergeNode in="d22"/><feMergeNode in="d23"/><feMergeNode in="d24"/></feMerge>
<feTile in="cell" x="1096" y="1074" width="106" height="51" result="grid"/>
<feComposite in="b" in2="grid" operator="in" result="s"/>
<feMorphology in="s" operator="dilate" radius="2"/>
</filter>
<filter id="fx299" filterUnits="userSpaceOnUse" primitiveUnits="userSpaceOnUse" x="1326" y="1074" width="106" height="51" color-interpolation-filters="sRGB">
<feMorphology in="SourceGraphic" operator="dilate" radius="0 1" result="t"/>
<feGaussianBlur in="t" stdDeviation="1.3" result="b"/>
<feFlood x="1328" y="1076" width="1" height="1" flood-color="#000" result="d0"/>
<feFlood x="1333" y="1076" width="1" height="1" flood-color="#000" result="d1"/>
<feFlood x="1337" y="1076" width="1" height="1" flood-color="#000" result="d2"/>
<feFlood x="1342" y="1076" width="1" height="1" flood-color="#000" result="d3"/>
<feFlood x="1346" y="1076" width="1" height="1" flood-color="#000" result="d4"/>
<feFlood x="1328" y="1081" width="1" height="1" flood-color="#000" result="d5"/>
<feFlood x="1333" y="1081" width="1" height="1" flood-color="#000" result="d6"/>
<feFlood x="1337" y="1081" width="1" height="1" flood-color="#000" result="d7"/>
<feFlood x="1342" y="1081" width="1" height="1" flood-color="#000" result="d8"/>
<feFlood x="1346" y="1081" width="1" height="1" flood-color="#000" result="d9"/>
<feFlood x="1328" y="1085" width="1" height="1" flood-color="#000" result="d10"/>
<feFlood x="1333" y="1085" width="1" height="1" flood-color="#000" result="d11"/>
<feFlood x="1337" y="1085" width="1" height="1" flood-color="#000" result="d12"/>
<feFlood x="1342" y="1085" width="1" height="1" flood-color="#000" result="d13"/>
<feFlood x="1346" y="1085" width="1" height="1" flood-color="#000" result="d14"/>
<feFlood x="1328" y="1090" width="1" height="1" flood-color="#000" result="d15"/>
<feFlood x="1333" y="1090" width="1" height="1" flood-color="#000" result="d16"/>
<feFlood x="1337" y="1090" width="1" height="1" flood-color="#000" result="d17"/>
<feFlood x="1342" y="1090" width="1" height="1" flood-color="#000" result="d18"/>
<feFlood x="1346" y="1090" width="1" height="1" flood-color="#000" result="d19"/>
<feFlood x="1328" y="1094" width="1" height="1" flood-color="#000" result="d20"/>
<feFlood x="1333" y="1094" width="1" height="1" flood-color="#000" result="d21"/>
<feFlood x="1337" y="1094" width="1" height="1" flood-color="#000" result="d22"/>
<feFlood x="1342" y="1094" width="1" height="1" flood-color="#000" result="d23"/>
<feFlood x="1346" y="1094" width="1" height="1" flood-color="#000" result="d24"/>
<feMerge x="1326" y="1074" width="23" height="23" result="cell"><feMergeNode in="d0"/><feMergeNode in="d1"/><feMergeNode in="d2"/><feMergeNode in="d3"/><feMergeNode in="d4"/><feMergeNode in="d5"/><feMergeNode in="d6"/><feMergeNode in="d7"/><feMergeNode in="d8"/><feMergeNode in="d9"/><feMergeNode in="d10"/><feMergeNode in="d11"/><feMergeNode in="d12"/><feMergeNode in="d13"/><feMergeNode in="d14"/><feMergeNode in="d15"/><feMergeNode in="d16"/><feMergeNode in="d17"/><feMergeNode in="d18"/><feMergeNode in="d19"/><feMergeNode in="d20"/><feMergeNode in="d21"/><feMergeNode in="d22"/><feMergeNode in="d23"/><feMergeNode in="d24"/></feMerge>
<feTile in="cell" x="1326" y="1074" width="106" height="51" result="grid"/>
<feComposite in="b" in2="grid" operator="in" result="s"/>
<feMorphology in="s" operator="dilate" radius="2"/>
</filter>
<filter id="fx349" filterUnits="userSpaceOnUse" primitiveUnits="userSpaceOnUse" x="1556" y="1074" width="106" height="51" color-interpolation-filters="sRGB">
<feMorphology in="SourceGraphic" operator="dilate" radius="0 1" result="t"/>
<feGaussianBlur in="t" stdDeviation="1.3" result="b"/>
<feFlood x="1558" y="1076" width="1" height="1" flood-color="#000" result="d0"/>
<feFlood x="1563" y="1076" width="1" height="1" flood-color="#000" result="d1"/>
<feFlood x="1567" y="1076" width="1" height="1" flood-color="#000" result="d2"/>
<feFlood x="1572" y="1076" width="1" height="1" flood-color="#000" result="d3"/>
<feFlood x="1577" y="1076" width="1" height="1" flood-color="#000" result="d4"/>
<feFlood x="1558" y="1081" width="1" height="1" flood-color="#000" result="d5"/>
<feFlood x="1563" y="1081" width="1" height="1" flood-color="#000" result="d6"/>
<feFlood x="1567" y="1081" width="1" height="1" flood-color="#000" result="d7"/>
<feFlood x="1572" y="1081" width="1" height="1" flood-color="#000" result="d8"/>
<feFlood x="1577" y="1081" width="1" height="1" flood-color="#000" result="d9"/>
<feFlood x="1558" y="1085" width="1" height="1" flood-color="#000" result="d10"/>
<feFlood x="1563" y="1085" width="1" height="1" flood-color="#000" result="d11"/>
<feFlood x="1567" y="1085" width="1" height="1" flood-color="#000" result="d12"/>
<feFlood x="1572" y="1085" width="1" height="1" flood-color="#000" result="d13"/>
<feFlood x="1577" y="1085" width="1" height="1" flood-color="#000" result="d14"/>
<feFlood x="1558" y="1090" width="1" height="1" flood-color="#000" result="d15"/>
<feFlood x="1563" y="1090" width="1" height="1" flood-color="#000" result="d16"/>
<feFlood x="1567" y="1090" width="1" height="1" flood-color="#000" result="d17"/>
<feFlood x="1572" y="1090" width="1" height="1" flood-color="#000" result="d18"/>
<feFlood x="1577" y="1090" width="1" height="1" flood-color="#000" result="d19"/>
<feFlood x="1558" y="1094" width="1" height="1" flood-color="#000" result="d20"/>
<feFlood x="1563" y="1094" width="1" height="1" flood-color="#000" result="d21"/>
<feFlood x="1567" y="1094" width="1" height="1" flood-color="#000" result="d22"/>
<feFlood x="1572" y="1094" width="1" height="1" flood-color="#000" result="d23"/>
<feFlood x="1577" y="1094" width="1" height="1" flood-color="#000" result="d24"/>
<feMerge x="1556" y="1074" width="23" height="23" result="cell"><feMergeNode in="d0"/><feMergeNode in="d1"/><feMergeNode in="d2"/><feMergeNode in="d3"/><feMergeNode in="d4"/><feMergeNode in="d5"/><feMergeNode in="d6"/><feMergeNode in="d7"/><feMergeNode in="d8"/><feMergeNode in="d9"/><feMergeNode in="d10"/><feMergeNode in="d11"/><feMergeNode in="d12"/><feMergeNode in="d13"/><feMergeNode in="d14"/><feMergeNode in="d15"/><feMergeNode in="d16"/><feMergeNode in="d17"/><feMergeNode in="d18"/><feMergeNode in="d19"/><feMergeNode in="d20"/><feMergeNode in="d21"/><feMergeNode in="d22"/><feMergeNode in="d23"/><feMergeNode in="d24"/></feMerge>
<feTile in="cell" x="1556" y="1074" width="106" height="51" result="grid"/>
<feComposite in="b" in2="grid" operator="in" result="s"/>
<feMorphology in="s" operator="dilate" radius="2"/>
</filter>
<filter id="fxt" filterUnits="userSpaceOnUse" primitiveUnits="userSpaceOnUse" x="626" y="1175" width="580" height="69" color-interpolation-filters="sRGB">
<feMorphology in="SourceGraphic" operator="dilate" radius="0 1" result="t"/>
<feGaussianBlur in="t" stdDeviation="1.3" result="b"/>
<feFlood x="628" y="1177" width="1" height="1" flood-color="#000" result="d0"/>
<feFlood x="633" y="1177" width="1" height="1" flood-color="#000" result="d1"/>
<feFlood x="637" y="1177" width="1" height="1" flood-color="#000" result="d2"/>
<feFlood x="642" y="1177" width="1" height="1" flood-color="#000" result="d3"/>
<feFlood x="647" y="1177" width="1" height="1" flood-color="#000" result="d4"/>
<feFlood x="628" y="1182" width="1" height="1" flood-color="#000" result="d5"/>
<feFlood x="633" y="1182" width="1" height="1" flood-color="#000" result="d6"/>
<feFlood x="637" y="1182" width="1" height="1" flood-color="#000" result="d7"/>
<feFlood x="642" y="1182" width="1" height="1" flood-color="#000" result="d8"/>
<feFlood x="647" y="1182" width="1" height="1" flood-color="#000" result="d9"/>
<feFlood x="628" y="1187" width="1" height="1" flood-color="#000" result="d10"/>
<feFlood x="633" y="1187" width="1" height="1" flood-color="#000" result="d11"/>
<feFlood x="637" y="1187" width="1" height="1" flood-color="#000" result="d12"/>
<feFlood x="642" y="1187" width="1" height="1" flood-color="#000" result="d13"/>
<feFlood x="647" y="1187" width="1" height="1" flood-color="#000" result="d14"/>
<feFlood x="628" y="1191" width="1" height="1" flood-color="#000" result="d15"/>
<feFlood x="633" y="1191" width="1" height="1" flood-color="#000" result="d16"/>
<feFlood x="637" y="1191" width="1" height="1" flood-color="#000" result="d17"/>
<feFlood x="642" y="1191" width="1" height="1" flood-color="#000" result="d18"/>
<feFlood x="647" y="1191" width="1" height="1" flood-color="#000" result="d19"/>
<feFlood x="628" y="1196" width="1" height="1" flood-color="#000" result="d20"/>
<feFlood x="633" y="1196" width="1" height="1" flood-color="#000" result="d21"/>
<feFlood x="637" y="1196" width="1" height="1" flood-color="#000" result="d22"/>
<feFlood x="642" y="1196" width="1" height="1" flood-color="#000" result="d23"/>
<feFlood x="647" y="1196" width="1" height="1" flood-color="#000" result="d24"/>
<feMerge x="626" y="1175" width="23" height="23" result="cell"><feMergeNode in="d0"/><feMergeNode in="d1"/><feMergeNode in="d2"/><feMergeNode in="d3"/><feMergeNode in="d4"/><feMergeNode in="d5"/><feMergeNode in="d6"/><feMergeNode in="d7"/><feMergeNode in="d8"/><feMergeNode in="d9"/><feMergeNode in="d10"/><feMergeNode in="d11"/><feMergeNode in="d12"/><feMergeNode in="d13"/><feMergeNode in="d14"/><feMergeNode in="d15"/><feMergeNode in="d16"/><feMergeNode in="d17"/><feMergeNode in="d18"/><feMergeNode in="d19"/><feMergeNode in="d20"/><feMergeNode in="d21"/><feMergeNode in="d22"/><feMergeNode in="d23"/><feMergeNode in="d24"/></feMerge>
<feTile in="cell" x="626" y="1175" width="580" height="69" result="grid"/>
<feComposite in="b" in2="grid" operator="in" result="s"/>
<feMorphology in="s" operator="dilate" radius="2"/>
</filter>
<filter id="fyt" filterUnits="userSpaceOnUse" primitiveUnits="userSpaceOnUse" x="5" y="323" width="87" height="535" color-interpolation-filters="sRGB">
<feMorphology in="SourceGraphic" operator="dilate" radius="1 0" result="t"/>
<feGaussianBlur in="t" stdDeviation="1.3" result="b"/>
<feFlood x="7" y="325" width="1" height="1" flood-color="#000" result="d0"/>
<feFlood x="11" y="325" width="1" height="1" flood-color="#000" result="d1"/>
<feFlood x="16" y="325" width="1" height="1" flood-color="#000" result="d2"/>
<feFlood x="20" y="325" width="1" height="1" flood-color="#000" result="d3"/>
<feFlood x="25" y="325" width="1" height="1" flood-color="#000" result="d4"/>
<feFlood x="7" y="330" width="1" height="1" flood-color="#000" result="d5"/>
<feFlood x="11" y="330" width="1" height="1" flood-color="#000" result="d6"/>
<feFlood x="16" y="330" width="1" height="1" flood-color="#000" result="d7"/>
<feFlood x="20" y="330" width="1" height="1" flood-color="#000" result="d8"/>
<feFlood x="25" y="330" width="1" height="1" flood-color="#000" result="d9"/>
<feFlood x="7" y="335" width="1" height="1" flood-color="#000" result="d10"/>
<feFlood x="11" y="335" width="1" height="1" flood-color="#000" result="d11"/>
<feFlood x="16" y="335" width="1" height="1" flood-color="#000" result="d12"/>
<feFlood x="20" y="335" width="1" height="1" flood-color="#000" result="d13"/>
<feFlood x="25" y="335" width="1" height="1" flood-color="#000" result="d14"/>
<feFlood x="7" y="339" width="1" height="1" flood-color="#000" result="d15"/>
<feFlood x="11" y="339" width="1" height="1" flood-color="#000" result="d16"/>
<feFlood x="16" y="339" width="1" height="1" flood-color="#000" result="d17"/>
<feFlood x="20" y="339" width="1" height="1" flood-color="#000" result="d18"/>
<feFlood x="25" y="339" width="1" height="1" flood-color="#000" result="d19"/>
<feFlood x="7" y="344" width="1" height="1" flood-color="#000" result="d20"/>
<feFlood x="11" y="344" width="1" height="1" flood-color="#000" result="d21"/>
<feFlood x="16" y="344" width="1" height="1" flood-color="#000" result="d22"/>
<feFlood x="20" y="344" width="1" height="1" flood-color="#000" result="d23"/>
<feFlood x="25" y="344" width="1" height="1" flood-color="#000" result="d24"/>
<feMerge x="5" y="323" width="23" height="23" result="cell"><feMergeNode in="d0"/><feMergeNode in="d1"/><feMergeNode in="d2"/><feMergeNode in="d3"/><feMergeNode in="d4"/><feMergeNode in="d5"/><feMergeNode in="d6"/><feMergeNode in="d7"/><feMergeNode in="d8"/><feMergeNode in="d9"/><feMergeNode in="d10"/><feMergeNode in="d11"/><feMergeNode in="d12"/><feMergeNode in="d13"/><feMergeNode in="d14"/><feMergeNode in="d15"/><feMergeNode in="d16"/><feMergeNode in="d17"/><feMergeNode in="d18"/><feMergeNode in="d19"/><feMergeNode in="d20"/><feMergeNode in="d21"/><feMergeNode in="d22"/><feMergeNode in="d23"/><feMergeNode in="d24"/></feMerge>
<feTile in="cell" x="5" y="323" width="87" height="535" result="grid"/>
<feComposite in="b" in2="grid" operator="in" result="s"/>
<feMorphology in="s" operator="dilate" radius="2"/>
</filter>
<filter id="flg" filterUnits="userSpaceOnUse" primitiveUnits="userSpaceOnUse" x="1225" y="61" width="359" height="157" color-interpolation-filters="sRGB">
<feMorphology in="SourceGraphic" operator="dilate" radius="0 1" result="t"/>
<feGaussianBlur in="t" stdDeviation="0.8 1.3" result="b"/>
<feOffset in="b" dx="1.53" dy="0" result="oR"/>
<feOffset in="b" dx="-1.53" dy="0" result="oB"/>
<feColorMatrix in="oR" type="matrix" values="0 0 0 -1 1  0 0 0 0 1  0 0 0 0 1  0 0 0 0 1" result="cR"/>
<feColorMatrix in="b" type="matrix" values="0 0 0 0 1  0 0 0 -1 1  0 0 0 0 1  0 0 0 0 1" result="cG"/>
<feColorMatrix in="oB" type="matrix" values="0 0 0 0 1  0 0 0 0 1  0 0 0 -1 1  0 0 0 0 1" result="cB"/>
<feBlend in="cR" in2="cG" mode="multiply" result="rg"/>
<feBlend in="rg" in2="cB" mode="multiply" result="bb"/>
<feFlood x="1227" y="63" width="1" height="1" flood-color="#000" result="d0"/>
<feFlood x="1231" y="63" width="1" height="1" flood-color="#000" result="d1"/>
<feFlood x="1236" y="63" width="1" height="1" flood-color="#000" result="d2"/>
<feFlood x="1240" y="63" width="1" height="1" flood-color="#000" result="d3"/>
<feFlood x="1245" y="63" width="1" height="1" flood-color="#000" result="d4"/>
<feFlood x="1227" y="68" width="1" height="1" flood-color="#000" result="d5"/>
<feFlood x="1231" y="68" width="1" height="1" flood-color="#000" result="d6"/>
<feFlood x="1236" y="68" width="1" height="1" flood-color="#000" result="d7"/>
<feFlood x="1240" y="68" width="1" height="1" flood-color="#000" result="d8"/>
<feFlood x="1245" y="68" width="1" height="1" flood-color="#000" result="d9"/>
<feFlood x="1227" y="72" width="1" height="1" flood-color="#000" result="d10"/>
<feFlood x="1231" y="72" width="1" height="1" flood-color="#000" result="d11"/>
<feFlood x="1236" y="72" width="1" height="1" flood-color="#000" result="d12"/>
<feFlood x="1240" y="72" width="1" height="1" flood-color="#000" result="d13"/>
<feFlood x="1245" y="72" width="1" height="1" flood-color="#000" result="d14"/>
<feFlood x="1227" y="77" width="1" height="1" flood-color="#000" result="d15"/>
<feFlood x="1231" y="77" width="1" height="1" flood-color="#000" result="d16"/>
<feFlood x="1236" y="77" width="1" height="1" flood-color="#000" result="d17"/>
<feFlood x="1240" y="77" width="1" height="1" flood-color="#000" result="d18"/>
<feFlood x="1245" y="77" width="1" height="1" flood-color="#000" result="d19"/>
<feFlood x="1227" y="81" width="1" height="1" flood-color="#000" result="d20"/>
<feFlood x="1231" y="81" width="1" height="1" flood-color="#000" result="d21"/>
<feFlood x="1236" y="81" width="1" height="1" flood-color="#000" result="d22"/>
<feFlood x="1240" y="81" width="1" height="1" flood-color="#000" result="d23"/>
<feFlood x="1245" y="81" width="1" height="1" flood-color="#000" result="d24"/>
<feMerge x="1225" y="61" width="23" height="23" result="cell"><feMergeNode in="d0"/><feMergeNode in="d1"/><feMergeNode in="d2"/><feMergeNode in="d3"/><feMergeNode in="d4"/><feMergeNode in="d5"/><feMergeNode in="d6"/><feMergeNode in="d7"/><feMergeNode in="d8"/><feMergeNode in="d9"/><feMergeNode in="d10"/><feMergeNode in="d11"/><feMergeNode in="d12"/><feMergeNode in="d13"/><feMergeNode in="d14"/><feMergeNode in="d15"/><feMergeNode in="d16"/><feMergeNode in="d17"/><feMergeNode in="d18"/><feMergeNode in="d19"/><feMergeNode in="d20"/><feMergeNode in="d21"/><feMergeNode in="d22"/><feMergeNode in="d23"/><feMergeNode in="d24"/></feMerge>
<feTile in="cell" x="1225" y="61" width="359" height="157" result="grid"/>
<feComposite in="bb" in2="grid" operator="in" result="s"/>
<feMorphology in="s" operator="dilate" radius="2"/>
</filter>
</defs>
<g filter="url(#fy8)" class="tk">
<text x="146.9" y="45.6" font-size="45" textLength="46" lengthAdjust="spacingAndGlyphs">40</text>
</g>
<g filter="url(#fy35)" class="tk">
<text x="146.9" y="170.6" font-size="45" textLength="46" lengthAdjust="spacingAndGlyphs">30</text>
</g>
<g filter="url(#fy63)" class="tk">
<text x="146.9" y="298.6" font-size="45" textLength="46" lengthAdjust="spacingAndGlyphs">20</text>
</g>
<g filter="url(#fy90)" class="tk">
<text x="146.9" y="423.6" font-size="45" textLength="46" lengthAdjust="spacingAndGlyphs">10</text>
</g>
<g filter="url(#fy118)" class="tk">
<text x="169.9" y="552.6" font-size="45" textLength="23" lengthAdjust="spacingAndGlyphs">0</text>
</g>
<g filter="url(#fy145)" class="tk">
<text x="132.9" y="676.6" font-size="45" textLength="60" lengthAdjust="spacingAndGlyphs">-10</text>
</g>
<g filter="url(#fy173)" class="tk">
<text x="132.9" y="805.6" font-size="45" textLength="60" lengthAdjust="spacingAndGlyphs">-20</text>
</g>
<g filter="url(#fy200)" class="tk">
<text x="132.9" y="929.6" font-size="45" textLength="60" lengthAdjust="spacingAndGlyphs">-30</text>
</g>
<g filter="url(#fy228)" class="tk">
<text x="132.9" y="1058.6" font-size="45" textLength="60" lengthAdjust="spacingAndGlyphs">-40</text>
</g>
<g filter="url(#fx50)" class="tk">
<text x="216.3" y="1114.0" font-size="45" textLength="23" lengthAdjust="spacingAndGlyphs">0</text>
</g>
<g filter="url(#fx100)" class="tk">
<text x="435.1" y="1114.0" font-size="45" textLength="46" lengthAdjust="spacingAndGlyphs">60</text>
</g>
<g filter="url(#fx149)" class="tk">
<text x="653.7" y="1114.0" font-size="45" textLength="69" lengthAdjust="spacingAndGlyphs">120</text>
</g>
<g filter="url(#fx199)" class="tk">
<text x="884.0" y="1114.0" font-size="45" textLength="69" lengthAdjust="spacingAndGlyphs">180</text>
</g>
<g filter="url(#fx249)" class="tk">
<text x="1112.2" y="1114.0" font-size="45" textLength="69" lengthAdjust="spacingAndGlyphs">240</text>
</g>
<g filter="url(#fx299)" class="tk">
<text x="1341.7" y="1114.0" font-size="45" textLength="69" lengthAdjust="spacingAndGlyphs">300</text>
</g>
<g filter="url(#fx349)" class="tk">
<text x="1572.6" y="1114.0" font-size="45" textLength="69" lengthAdjust="spacingAndGlyphs">360</text>
</g>
<g filter="url(#fxt)" class="ti">
<text x="645.5" y="1220.0" font-size="51" textLength="539" lengthAdjust="spacingAndGlyphs">Electrical angle [deg.]</text>
</g>
<g filter="url(#fyt)" class="ti">
<text font-size="58" textLength="503" lengthAdjust="spacingAndGlyphs" transform="translate(58.4 839.5) rotate(-90)">Back-EMF(RMS) [V]</text>
</g>
<g filter="url(#flg)" class="lg">
<text x="1232" y="119.5" font-size="43" textLength="249" lengthAdjust="spacingAndGlyphs">Basic model</text>
<text x="1234" y="188.5" font-size="43" textLength="339" lengthAdjust="spacingAndGlyphs">Proposed model</text>
</g>
</svg>
</body>
</html>
